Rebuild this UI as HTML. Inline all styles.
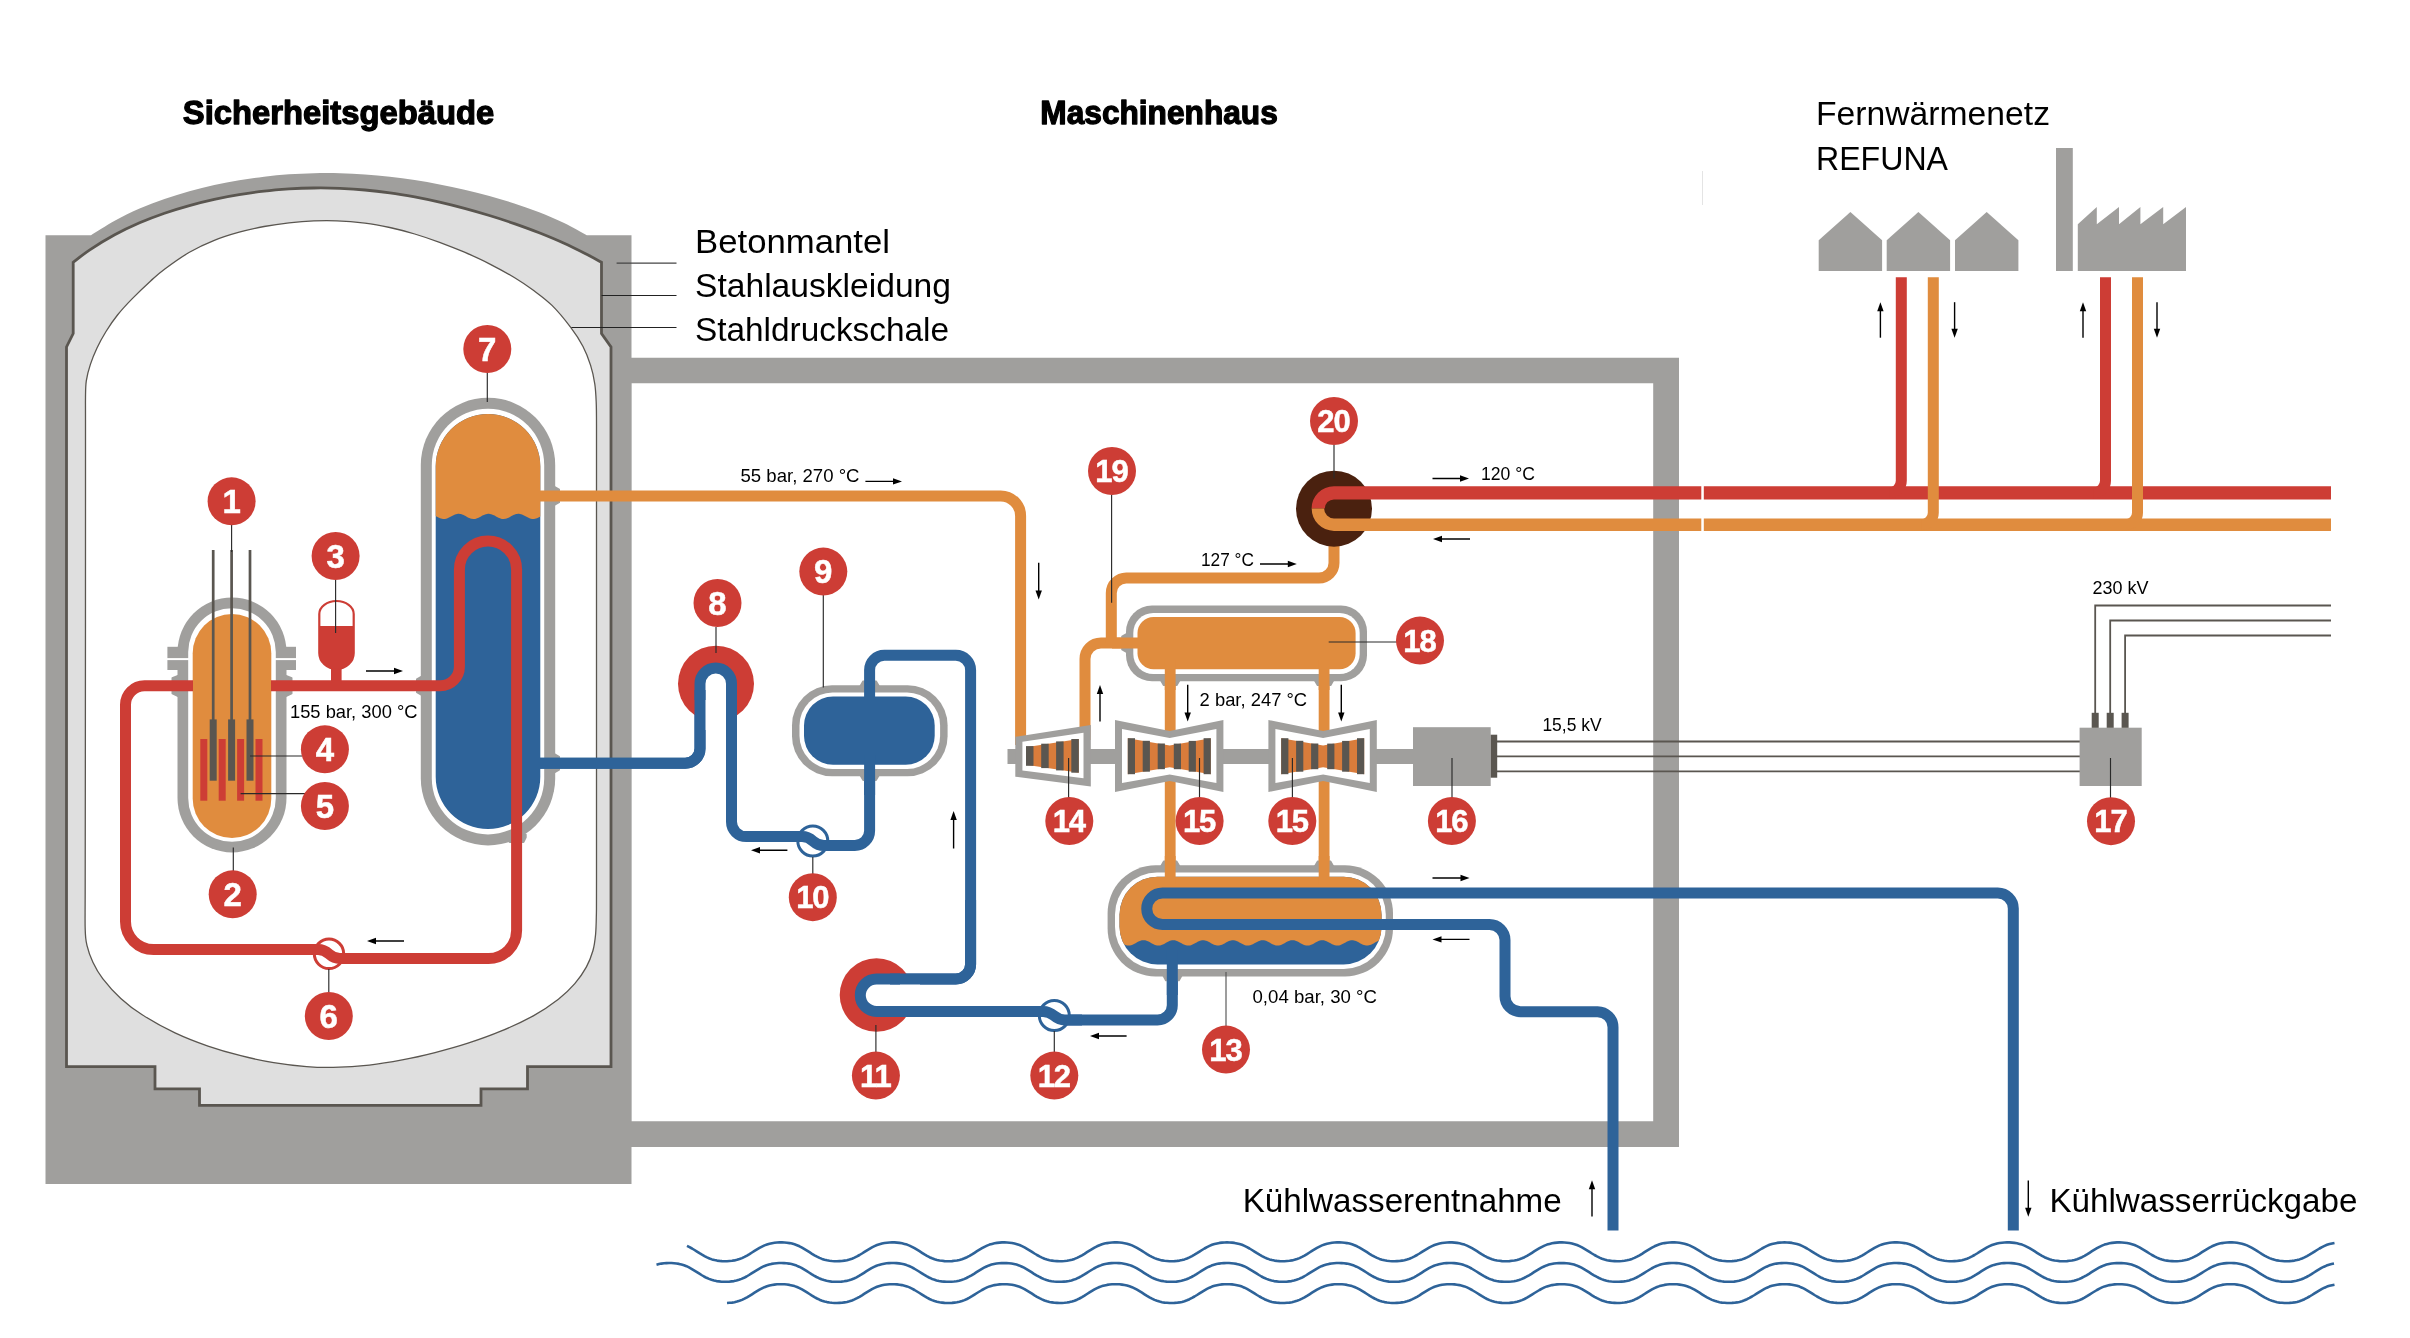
<!DOCTYPE html>
<html lang="de">
<head>
<meta charset="utf-8">
<title>Druckwasserreaktor – Schema</title>
<style>
html,body{margin:0;padding:0;background:#fff;}
body{width:2410px;height:1338px;overflow:hidden;font-family:"Liberation Sans",sans-serif;}
svg{display:block;will-change:transform;}
</style>
</head>
<body>
<svg width="2410" height="1338" viewBox="0 0 2410 1338" font-family="'Liberation Sans', sans-serif">
<rect width="2410" height="1338" fill="#fff"/>
<path d="M600 357.7 H1679 V1146.9 H600 Z M631.3 383.2 V1121.2 H1653.2 V383.2 Z" fill="#a09f9d" fill-rule="evenodd"/>
<path d="M45.5 235.3 H91 C95.0 232.9 106.6 225.2 114.7 220.8 C122.8 216.3 131.3 212.3 139.6 208.6 C147.9 205.0 156.2 201.9 164.5 199.0 C172.8 196.1 181.1 193.6 189.4 191.3 C197.7 188.9 206.0 186.9 214.3 185.1 C222.6 183.3 230.9 181.7 239.2 180.3 C247.5 178.9 255.8 177.7 264.1 176.7 C272.4 175.7 280.7 174.9 289.0 174.3 C297.3 173.8 305.4 173.4 313.9 173.2 C322.4 173.0 331.5 173.0 340.0 173.2 C348.5 173.4 356.6 173.8 364.9 174.4 C373.2 175.0 381.5 175.7 389.8 176.7 C398.1 177.6 406.4 178.7 414.7 180.0 C423.0 181.3 431.3 182.8 439.6 184.4 C447.9 186.0 456.2 187.7 464.5 189.7 C472.8 191.6 481.1 193.7 489.4 196.0 C497.7 198.3 506.0 200.8 514.3 203.5 C522.6 206.2 530.9 209.1 539.2 212.3 C547.5 215.6 556.2 219.3 564.1 223.1 C572.0 226.9 583.0 233.3 586.8 235.3 H631.5 V1184 H45.5 Z" fill="#a09f9d"/>
<path d="M73.2 262.3 C76.0 260.2 82.9 254.4 89.8 249.8 C96.7 245.2 106.4 239.2 114.7 234.7 C123.0 230.2 131.3 226.3 139.6 222.7 C147.9 219.2 156.2 216.1 164.5 213.2 C172.8 210.4 181.1 207.9 189.4 205.6 C197.7 203.3 206.0 201.2 214.3 199.4 C222.6 197.6 230.9 196.0 239.2 194.7 C247.5 193.3 255.8 192.1 264.1 191.2 C272.4 190.2 280.7 189.5 289.0 188.9 C297.3 188.4 305.4 188.1 313.9 188.0 C322.4 187.9 331.5 188.0 340.0 188.3 C348.5 188.7 356.6 189.2 364.9 190.0 C373.2 190.7 381.5 191.7 389.8 192.9 C398.1 194.0 406.4 195.4 414.7 196.9 C423.0 198.5 431.3 200.2 439.6 202.1 C447.9 204.0 456.2 206.1 464.5 208.3 C472.8 210.5 481.1 212.9 489.4 215.5 C497.7 218.0 506.0 220.7 514.3 223.6 C522.6 226.5 530.9 229.5 539.2 232.8 C547.5 236.1 555.8 239.5 564.1 243.3 C572.4 247.1 582.8 252.4 589.0 255.5 C595.2 258.7 599.4 261.2 601.5 262.3 V333.5 L611 347 V1066.6 H527.5 V1088.8 H481 V1105.4 H199.5 V1088.8 H155 V1066.6 H66.5 V347 L73.2 333.5 Z" fill="#dfdfdf" stroke="#5a5650" stroke-width="2.8" stroke-linejoin="miter"/>
<path d="M85.5 420.0 C85.5 402.9 85.4 403.8 85.5 397.3 C85.6 390.8 85.5 386.3 86.3 380.8 C87.1 375.3 88.6 369.9 90.4 364.4 C92.2 358.9 94.4 353.5 97.0 348.0 C99.6 342.5 102.6 337.0 106.0 331.5 C109.4 326.0 113.1 320.5 117.5 315.0 C121.9 309.5 126.8 304.2 132.3 298.6 C137.8 293.0 145.0 286.1 150.4 281.2 C155.8 276.4 158.0 274.1 164.5 269.3 C171.0 264.4 181.1 257.1 189.4 252.3 C197.7 247.5 206.0 243.7 214.3 240.4 C222.6 237.0 230.9 234.5 239.2 232.2 C247.5 229.9 255.8 228.1 264.1 226.5 C272.4 225.0 280.7 223.8 289.0 222.8 C297.3 221.9 305.9 221.2 313.9 220.9 C321.9 220.5 328.5 220.4 337.0 220.8 C345.5 221.1 356.1 222.0 364.9 223.1 C373.7 224.2 381.5 225.7 389.8 227.5 C398.1 229.3 406.4 231.5 414.7 234.0 C423.0 236.5 431.3 239.3 439.6 242.3 C447.9 245.4 456.2 248.7 464.5 252.2 C472.8 255.8 481.1 259.5 489.4 263.8 C497.7 268.0 506.9 273.1 514.3 277.5 C521.7 282.0 527.4 285.9 533.7 290.5 C540.0 295.2 545.8 299.3 552.0 305.4 C558.2 311.5 565.5 320.5 570.7 327.4 C575.9 334.2 579.7 340.2 583.0 346.5 C586.3 352.8 588.6 359.1 590.6 365.4 C592.6 371.6 593.9 377.9 594.8 384.0 C595.7 390.1 595.9 395.2 596.2 402.0 C596.5 408.8 596.5 408.7 596.5 425.0 C596.5 441.3 596.5 454.2 596.5 500.0 C596.5 545.8 596.5 636.7 596.5 700.0 C596.5 763.3 596.5 844.5 596.5 880.0 C596.5 915.5 596.5 903.9 596.4 912.9 C596.2 921.9 596.2 927.9 595.6 934.2 C595.0 940.5 594.5 945.2 592.9 950.7 C591.3 956.2 589.3 961.6 586.3 967.1 C583.3 972.6 579.4 978.2 574.8 983.6 C570.1 989.0 565.2 993.9 558.4 999.2 C551.5 1004.5 543.3 1010.3 533.7 1015.6 C524.1 1020.9 511.8 1026.6 500.8 1031.2 C489.9 1035.8 479.0 1039.6 468.0 1043.2 C457.0 1046.8 446.0 1049.8 435.0 1052.6 C424.0 1055.4 413.1 1057.9 402.2 1059.9 C391.2 1062.0 380.8 1063.8 369.3 1065.1 C357.8 1066.3 343.6 1067.1 333.2 1067.4 C322.8 1067.6 316.5 1067.4 306.6 1066.6 C296.7 1065.8 284.7 1064.4 273.7 1062.6 C262.7 1060.8 251.8 1058.5 240.8 1055.7 C229.9 1053.0 219.0 1049.9 208.0 1046.1 C197.0 1042.3 186.0 1038.1 175.0 1032.9 C164.0 1027.7 151.2 1020.5 142.2 1014.8 C133.2 1009.1 127.4 1004.4 120.8 998.4 C114.2 992.4 107.3 984.6 102.7 978.6 C98.1 972.6 95.5 967.7 92.9 962.2 C90.3 956.7 88.4 951.3 87.1 945.8 C85.8 940.3 85.5 940.3 85.2 929.3 C84.9 918.3 85.2 918.2 85.2 880.0 C85.2 841.8 85.4 763.3 85.4 700.0 C85.5 636.7 85.5 546.7 85.5 500.0 C85.5 453.3 85.5 437.1 85.5 420.0 Z" fill="#fff" stroke="#5a5650" stroke-width="1.3"/>
<line x1="616.6" y1="263.2" x2="676.5" y2="263.2" stroke="#444" stroke-width="1.2"/>
<line x1="601.6" y1="295.5" x2="676.5" y2="295.5" stroke="#222" stroke-width="1.2"/>
<line x1="571.4" y1="327.5" x2="676.5" y2="327.5" stroke="#222" stroke-width="1.2"/>
<rect x="167.4" y="646.8" width="128.6" height="23.2" fill="#a09f9d"/>
<polygon points="181.5,675.4 178.5,675.4 172.3,678.1 172.3,693.6 178.5,696.4 181.5,696.4" fill="#a09f9d" stroke="#a09f9d" stroke-width="1.6" stroke-linejoin="round"/>
<polygon points="282.5,675.4 285.5,675.4 291.7,678.1 291.7,693.6 285.5,696.4 282.5,696.4" fill="#a09f9d" stroke="#a09f9d" stroke-width="1.6" stroke-linejoin="round"/>
<path d="M177.5 652 A54.5 54.5 0 0 1 286.5 652 V798 A54.5 54.5 0 0 1 177.5 798 Z" fill="#a09f9d"/>
<rect x="165" y="658.1" width="134" height="2" fill="#fff"/>
<path d="M188.2 652 A43.8 43.8 0 0 1 275.8 652 V798 A43.8 43.8 0 0 1 188.2 798 Z" fill="#fff"/>
<path d="M192.7 653.3 A39.3 39.3 0 0 1 271.3 653.3 V798.7 A39.3 39.3 0 0 1 192.7 798.7 Z" fill="#e08c3e"/>
<rect x="200.3" y="739" width="7" height="61.7" fill="#cd3d35"/>
<rect x="218.7" y="739" width="7" height="61.7" fill="#cd3d35"/>
<rect x="237.1" y="739" width="7" height="61.7" fill="#cd3d35"/>
<rect x="255.5" y="739" width="7" height="61.7" fill="#cd3d35"/>
<rect x="211.85" y="550" width="2.7" height="172" fill="#5a5650"/>
<rect x="209.7" y="719.4" width="7" height="61.3" fill="#5a5650"/>
<rect x="230.25" y="550" width="2.7" height="172" fill="#5a5650"/>
<rect x="228.1" y="719.4" width="7" height="61.3" fill="#5a5650"/>
<rect x="248.65" y="550" width="2.7" height="172" fill="#5a5650"/>
<rect x="246.5" y="719.4" width="7" height="61.3" fill="#5a5650"/>
<polygon points="551.4,486.6 554.4,486.6 559.2,489.4 559.2,502.4 554.4,505.1 551.4,505.1" fill="#a09f9d" stroke="#a09f9d" stroke-width="1.6" stroke-linejoin="round"/>
<polygon points="551.4,754.0 554.4,754.0 559.2,756.7 559.2,769.7 554.4,772.5 551.4,772.5" fill="#a09f9d" stroke="#a09f9d" stroke-width="1.6" stroke-linejoin="round"/>
<polygon points="424.6,676.5 421.6,676.5 416.8,679.2 416.8,692.2 421.6,695.0 424.6,695.0" fill="#a09f9d" stroke="#a09f9d" stroke-width="1.6" stroke-linejoin="round"/>
<polygon points="507.4,834.5 507.4,837.5 509.6,842.1 523.6,842.1 525.9,837.5 525.9,834.5" fill="#a09f9d" stroke="#a09f9d" stroke-width="1.6" stroke-linejoin="round"/>
<path d="M420.8 465 A67.2 67.2 0 0 1 555.2 465 V778.2 A67.2 67.2 0 0 1 420.8 778.2 Z" fill="#a09f9d"/>
<path d="M431.8 465 A56.2 56.2 0 0 1 544.2 465 V778.2 A56.2 56.2 0 0 1 431.8 778.2 Z" fill="#fff"/>
<clipPath id="sgc"><path d="M435.7 466.3 A52.3 52.3 0 0 1 540.3 466.3 V776.7 A52.3 52.3 0 0 1 435.7 776.7 Z"/></clipPath>
<g clip-path="url(#sgc)">
<rect x="430" y="410" width="120" height="430" fill="#2e6399"/>
<polygon points="430.0,513.90 431.0,514.10 432.0,514.40 433.0,514.79 434.0,515.25 435.0,515.76 436.0,516.30 437.0,516.85 438.0,517.37 439.0,517.85 440.0,518.27 441.0,518.61 442.0,518.85 443.0,518.98 444.0,518.99 445.0,518.90 446.0,518.69 447.0,518.38 448.0,517.99 449.0,517.52 450.0,517.01 451.0,516.47 452.0,515.92 453.0,515.40 454.0,514.92 455.0,514.51 456.0,514.18 457.0,513.95 458.0,513.82 459.0,513.81 460.0,513.91 461.0,514.12 462.0,514.44 463.0,514.83 464.0,515.30 465.0,515.82 466.0,516.36 467.0,516.90 468.0,517.42 469.0,517.90 470.0,518.31 471.0,518.64 472.0,518.86 473.0,518.98 474.0,518.99 475.0,518.88 476.0,518.66 477.0,518.35 478.0,517.94 479.0,517.47 480.0,516.96 481.0,516.41 482.0,515.87 483.0,515.35 484.0,514.88 485.0,514.47 486.0,514.15 487.0,513.93 488.0,513.81 489.0,513.81 490.0,513.93 491.0,514.15 492.0,514.47 493.0,514.88 494.0,515.35 495.0,515.87 496.0,516.41 497.0,516.96 498.0,517.47 499.0,517.94 500.0,518.35 501.0,518.66 502.0,518.88 503.0,518.99 504.0,518.98 505.0,518.86 506.0,518.64 507.0,518.31 508.0,517.90 509.0,517.42 510.0,516.90 511.0,516.36 512.0,515.82 513.0,515.30 514.0,514.83 515.0,514.44 516.0,514.12 517.0,513.91 518.0,513.81 519.0,513.82 520.0,513.95 521.0,514.18 522.0,514.51 523.0,514.92 524.0,515.40 525.0,515.92 526.0,516.47 527.0,517.01 528.0,517.52 529.0,517.99 530.0,518.38 531.0,518.69 532.0,518.90 533.0,518.99 534.0,518.98 535.0,518.85 536.0,518.61 537.0,518.27 538.0,517.85 539.0,517.37 540.0,516.85 541.0,516.30 542.0,515.76 543.0,515.25 544.0,514.79 545.0,514.40 546.0,514.10 547.0,513.90 548.0,513.81 549.0,513.83 550.0,513.96 550.0,400.0 430.0,400.0" fill="#e08c3e"/>
</g>
<path d="M271.00 685.70 L440.40 685.70 A19.00 19.00 0 0 0 459.40 666.70 L459.40 569.50" fill="none" stroke="#cd3d35" stroke-width="11" />
<path d="M459.4 570 V569.5 A28.6 28.6 0 0 1 516.6 569.5 V570" fill="none" stroke="#cd3d35" stroke-width="11"/>
<path d="M516.60 569.00 L516.60 930.50 A28.00 28.00 0 0 1 488.60 958.50 L345.00 958.50" fill="none" stroke="#cd3d35" stroke-width="11" />
<path d="M312 949.5 H153.5 A28 28 0 0 1 125.5 921.5 V704.7 A19 19 0 0 1 144.5 685.7 H193" fill="none" stroke="#cd3d35" stroke-width="11"/>
<circle cx="329" cy="953.8" r="14.7" fill="#fff" stroke="#cd3d35" stroke-width="3"/>
<path d="M300 949.5 H318 C330 949.5 328 958.5 340 958.5 H360" fill="none" stroke="#cd3d35" stroke-width="11"/>
<rect x="331" y="664" width="10.6" height="20" fill="#cd3d35"/>
<path d="M319.3 614 A17.2 13 0 0 1 353.7 614 V653 A17.2 16 0 0 1 319.3 653 Z" fill="#fff" stroke="#cd3d35" stroke-width="2.2"/>
<path d="M319.3 626 H353.7 V653 A17.2 16 0 0 1 319.3 653 Z" fill="#cd3d35"/>
<path d="M540.00 495.90 L1000.60 495.90 A20.00 20.00 0 0 1 1020.60 515.90 L1020.60 745.00" fill="none" stroke="#e08c3e" stroke-width="11" />
<path d="M1085.00 740.00 L1085.00 659.00 A16.00 16.00 0 0 1 1101.00 643.00 L1140.00 643.00" fill="none" stroke="#e08c3e" stroke-width="11" />
<path d="M1111.30 643.00 L1111.30 593.00 A15.00 15.00 0 0 1 1126.30 578.00 L1319.00 578.00 A15.00 15.00 0 0 0 1334.00 563.00 L1334.00 540.00" fill="none" stroke="#e08c3e" stroke-width="11" />
<rect x="1164.8" y="660" width="10.8" height="225" fill="#e08c3e"/>
<rect x="1318.7" y="660" width="10.8" height="225" fill="#e08c3e"/>
<path d="M540.00 763.20 L685.20 763.20 A14.80 14.80 0 0 0 700.00 748.40 L700.00 690.00" fill="none" stroke="#2e6399" stroke-width="11" />
<circle cx="716" cy="683.7" r="38" fill="#cd3d35"/>
<path d="M700 730 V683.7 A15.75 15.75 0 0 1 731.5 683.7 V730 Z" fill="#fff"/>
<path d="M700 700 V683.7 A15.75 15.75 0 0 1 731.5 683.7 V700" fill="none" stroke="#2e6399" stroke-width="11"/>
<path d="M700.00 690.00 L700.00 748.40 A14.80 14.80 0 0 1 685.20 763.20 L540.00 763.20" fill="none" stroke="#2e6399" stroke-width="11" />
<path d="M731.50 690.00 L731.50 821.80 A14.80 14.80 0 0 0 746.30 836.60 L800.00 836.60" fill="none" stroke="#2e6399" stroke-width="11" />
<path d="M826.00 845.50 L854.80 845.50 A14.80 14.80 0 0 0 869.60 830.70 L869.60 760.00" fill="none" stroke="#2e6399" stroke-width="11" />
<circle cx="812.8" cy="841" r="15" fill="#fff" stroke="#2e6399" stroke-width="3"/>
<path d="M785 836.6 H802 C814 836.6 812 845.5 824 845.5 H840" fill="none" stroke="#2e6399" stroke-width="11"/>
<polygon points="860.4,689.0 860.4,686.0 863.1,681.2 876.1,681.2 878.9,686.0 878.9,689.0" fill="#a09f9d" stroke="#a09f9d" stroke-width="1.6" stroke-linejoin="round"/>
<polygon points="860.4,772.4 860.4,775.4 863.1,780.2 876.1,780.2 878.9,775.4 878.9,772.4" fill="#a09f9d" stroke="#a09f9d" stroke-width="1.6" stroke-linejoin="round"/>
<rect x="792" y="685.2" width="155.6" height="91" rx="40" fill="#a09f9d"/>
<rect x="799.5" y="692.5" width="140.6" height="76.4" rx="33" fill="#fff"/>
<rect x="804" y="696.5" width="130.7" height="68.3" rx="29" fill="#2e6399"/>
<rect x="864.1" y="755" width="11" height="40" fill="#2e6399"/>
<path d="M869.60 700.00 L869.60 670.10 A14.80 14.80 0 0 1 884.40 655.30 L955.80 655.30 A14.80 14.80 0 0 1 970.60 670.10 L970.60 964.20 A14.80 14.80 0 0 1 955.80 979.00 L880.00 979.00" fill="none" stroke="#2e6399" stroke-width="11" />
<circle cx="876.5" cy="995" r="36.8" fill="#cd3d35"/>
<path d="M920 979 H876.5 A16.2 16.2 0 0 0 876.5 1011.4 H920 Z" fill="#fff"/>
<path d="M900 979 H876.5 A16.2 16.2 0 0 0 876.5 1011.4 H900" fill="none" stroke="#2e6399" stroke-width="11"/>
<path d="M890.00 979.00 L955.80 979.00 A14.80 14.80 0 0 0 970.60 964.20 L970.60 900.00" fill="none" stroke="#2e6399" stroke-width="11" />
<path d="M890.00 1011.40 L1042.00 1011.40" fill="none" stroke="#2e6399" stroke-width="11" />
<path d="M1066.00 1020.00 L1157.50 1020.00 A14.80 14.80 0 0 0 1172.30 1005.20 L1172.30 960.00" fill="none" stroke="#2e6399" stroke-width="11" />
<circle cx="1054.3" cy="1015.5" r="15" fill="#fff" stroke="#2e6399" stroke-width="3"/>
<path d="M1026 1011.4 H1043 C1055 1011.4 1053 1020 1065 1020 H1082" fill="none" stroke="#2e6399" stroke-width="11"/>
<polygon points="1161.0,869.1 1161.0,866.1 1163.7,861.3 1176.7,861.3 1179.5,866.1 1179.5,869.1" fill="#a09f9d" stroke="#a09f9d" stroke-width="1.6" stroke-linejoin="round"/>
<polygon points="1314.8,869.1 1314.8,866.1 1317.6,861.3 1330.6,861.3 1333.3,866.1 1333.3,869.1" fill="#a09f9d" stroke="#a09f9d" stroke-width="1.6" stroke-linejoin="round"/>
<polygon points="1163.2,972.7 1163.2,975.7 1165.9,980.5 1178.9,980.5 1181.7,975.7 1181.7,972.7" fill="#a09f9d" stroke="#a09f9d" stroke-width="1.6" stroke-linejoin="round"/>
<rect x="1107.6" y="865.3" width="285.4" height="111.2" rx="48" fill="#a09f9d"/>
<rect x="1115" y="872.5" width="270.8" height="96.5" rx="42" fill="#fff"/>
<clipPath id="cdc"><rect x="1119.5" y="876.7" width="262.1" height="87.8" rx="38"/></clipPath>
<g clip-path="url(#cdc)">
<rect x="1110" y="870" width="280" height="100" fill="#2e6399"/>
<polygon points="1112.0,940.37 1113.0,940.23 1114.0,940.21 1115.0,940.30 1116.0,940.51 1117.0,940.83 1118.0,941.24 1119.0,941.72 1120.0,942.25 1121.0,942.81 1122.0,943.38 1123.0,943.93 1124.0,944.43 1125.0,944.86 1126.0,945.20 1127.0,945.45 1128.0,945.58 1129.0,945.59 1130.0,945.48 1131.0,945.26 1132.0,944.94 1133.0,944.52 1134.0,944.03 1135.0,943.49 1136.0,942.93 1137.0,942.36 1138.0,941.82 1139.0,941.33 1140.0,940.90 1141.0,940.57 1142.0,940.33 1143.0,940.21 1144.0,940.21 1145.0,940.33 1146.0,940.57 1147.0,940.90 1148.0,941.33 1149.0,941.82 1150.0,942.36 1151.0,942.93 1152.0,943.49 1153.0,944.03 1154.0,944.52 1155.0,944.94 1156.0,945.26 1157.0,945.48 1158.0,945.59 1159.0,945.58 1160.0,945.45 1161.0,945.20 1162.0,944.86 1163.0,944.43 1164.0,943.93 1165.0,943.38 1166.0,942.81 1167.0,942.25 1168.0,941.72 1169.0,941.24 1170.0,940.83 1171.0,940.51 1172.0,940.30 1173.0,940.21 1174.0,940.23 1175.0,940.37 1176.0,940.63 1177.0,940.98 1178.0,941.42 1179.0,941.93 1180.0,942.47 1181.0,943.04 1182.0,943.60 1183.0,944.13 1184.0,944.61 1185.0,945.01 1186.0,945.31 1187.0,945.51 1188.0,945.60 1189.0,945.56 1190.0,945.41 1191.0,945.14 1192.0,944.78 1193.0,944.33 1194.0,943.82 1195.0,943.27 1196.0,942.70 1197.0,942.14 1198.0,941.62 1199.0,941.15 1200.0,940.76 1201.0,940.46 1202.0,940.27 1203.0,940.20 1204.0,940.25 1205.0,940.41 1206.0,940.69 1207.0,941.06 1208.0,941.52 1209.0,942.03 1210.0,942.59 1211.0,943.16 1212.0,943.71 1213.0,944.23 1214.0,944.70 1215.0,945.08 1216.0,945.36 1217.0,945.54 1218.0,945.60 1219.0,945.54 1220.0,945.36 1221.0,945.08 1222.0,944.70 1223.0,944.23 1224.0,943.71 1225.0,943.16 1226.0,942.59 1227.0,942.03 1228.0,941.52 1229.0,941.06 1230.0,940.69 1231.0,940.41 1232.0,940.25 1233.0,940.20 1234.0,940.27 1235.0,940.46 1236.0,940.76 1237.0,941.15 1238.0,941.62 1239.0,942.14 1240.0,942.70 1241.0,943.27 1242.0,943.82 1243.0,944.33 1244.0,944.78 1245.0,945.14 1246.0,945.41 1247.0,945.56 1248.0,945.60 1249.0,945.51 1250.0,945.31 1251.0,945.01 1252.0,944.61 1253.0,944.13 1254.0,943.60 1255.0,943.04 1256.0,942.47 1257.0,941.93 1258.0,941.42 1259.0,940.98 1260.0,940.63 1261.0,940.37 1262.0,940.23 1263.0,940.21 1264.0,940.30 1265.0,940.51 1266.0,940.83 1267.0,941.24 1268.0,941.72 1269.0,942.25 1270.0,942.81 1271.0,943.38 1272.0,943.93 1273.0,944.43 1274.0,944.86 1275.0,945.20 1276.0,945.45 1277.0,945.58 1278.0,945.59 1279.0,945.48 1280.0,945.26 1281.0,944.94 1282.0,944.52 1283.0,944.03 1284.0,943.49 1285.0,942.93 1286.0,942.36 1287.0,941.82 1288.0,941.33 1289.0,940.90 1290.0,940.57 1291.0,940.33 1292.0,940.21 1293.0,940.21 1294.0,940.33 1295.0,940.57 1296.0,940.90 1297.0,941.33 1298.0,941.82 1299.0,942.36 1300.0,942.93 1301.0,943.49 1302.0,944.03 1303.0,944.52 1304.0,944.94 1305.0,945.26 1306.0,945.48 1307.0,945.59 1308.0,945.58 1309.0,945.45 1310.0,945.20 1311.0,944.86 1312.0,944.43 1313.0,943.93 1314.0,943.38 1315.0,942.81 1316.0,942.25 1317.0,941.72 1318.0,941.24 1319.0,940.83 1320.0,940.51 1321.0,940.30 1322.0,940.21 1323.0,940.23 1324.0,940.37 1325.0,940.63 1326.0,940.98 1327.0,941.42 1328.0,941.93 1329.0,942.47 1330.0,943.04 1331.0,943.60 1332.0,944.13 1333.0,944.61 1334.0,945.01 1335.0,945.31 1336.0,945.51 1337.0,945.60 1338.0,945.56 1339.0,945.41 1340.0,945.14 1341.0,944.78 1342.0,944.33 1343.0,943.82 1344.0,943.27 1345.0,942.70 1346.0,942.14 1347.0,941.62 1348.0,941.15 1349.0,940.76 1350.0,940.46 1351.0,940.27 1352.0,940.20 1353.0,940.25 1354.0,940.41 1355.0,940.69 1356.0,941.06 1357.0,941.52 1358.0,942.03 1359.0,942.59 1360.0,943.16 1361.0,943.71 1362.0,944.23 1363.0,944.70 1364.0,945.08 1365.0,945.36 1366.0,945.54 1367.0,945.60 1368.0,945.54 1369.0,945.36 1370.0,945.08 1371.0,944.70 1372.0,944.23 1373.0,943.71 1374.0,943.16 1375.0,942.59 1376.0,942.03 1377.0,941.52 1378.0,941.06 1379.0,940.69 1380.0,940.41 1381.0,940.25 1382.0,940.20 1383.0,940.27 1384.0,940.46 1385.0,940.76 1386.0,941.15 1387.0,941.62 1388.0,942.14 1389.0,942.70 1390.0,943.27 1390.0,860.0 1112.0,860.0" fill="#e08c3e"/>
</g>
<rect x="1164.8" y="856" width="10.8" height="28" fill="#e08c3e"/>
<rect x="1318.7" y="856" width="10.8" height="28" fill="#e08c3e"/>
<rect x="1166.8" y="950" width="11" height="45" fill="#2e6399"/>
<path d="M2013.3 1230.6 V908.5 A15.5 15.5 0 0 0 1997.8 893 H1162.5 A15.75 15.75 0 0 0 1162.5 924.5 H1489.5 A15.5 15.5 0 0 1 1505 940.0 V996.2 A15.5 15.5 0 0 0 1520.5 1011.7 H1597.2 A15.5 15.5 0 0 1 1613.0 1027.2 V1230.6" fill="none" stroke="#2e6399" stroke-width="11"/>
<polygon points="1161.0,677.5 1161.0,680.5 1163.7,685.3 1176.7,685.3 1179.5,680.5 1179.5,677.5" fill="#a09f9d" stroke="#a09f9d" stroke-width="1.6" stroke-linejoin="round"/>
<polygon points="1314.8,677.5 1314.8,680.5 1317.6,685.3 1330.6,685.3 1333.3,680.5 1333.3,677.5" fill="#a09f9d" stroke="#a09f9d" stroke-width="1.6" stroke-linejoin="round"/>
<polygon points="1129.8,633.8 1126.8,633.8 1122.0,636.5 1122.0,649.5 1126.8,652.2 1129.8,652.2" fill="#a09f9d" stroke="#a09f9d" stroke-width="1.6" stroke-linejoin="round"/>
<rect x="1126" y="605.6" width="241" height="75.7" rx="26" fill="#a09f9d"/>
<rect x="1133.3" y="613" width="226.4" height="61" rx="20" fill="#fff"/>
<rect x="1137.5" y="617" width="218.1" height="52.3" rx="16" fill="#e08c3e"/>
<rect x="1112" y="637.5" width="33" height="11" fill="#e08c3e"/>
<rect x="1164.8" y="660" width="10.8" height="30" fill="#e08c3e"/>
<rect x="1318.7" y="660" width="10.8" height="30" fill="#e08c3e"/>
<rect x="1007.5" y="749" width="8" height="15" fill="#a09f9d"/>
<rect x="1015" y="749" width="400" height="15" fill="#a09f9d"/>
<polygon points="1015.3,736.8 1090.8,724.9 1090.8,786.6 1015.3,776.7" fill="#a09f9d"/>
<polygon points="1022.4,741.8 1083.5,732.8 1083.5,778.3 1022.4,770.6" fill="#fff"/>
<polygon points="1026.0,747.3 1078.8,739.0 1078.8,772.7 1026.0,764.7" fill="#d97c3b"/>
<rect x="1026.0" y="746.1" width="7.5" height="19.7" fill="#5a5650"/>
<rect x="1041.2" y="743.7" width="7.5" height="24.4" fill="#5a5650"/>
<rect x="1056.1" y="741.4" width="7.5" height="29.0" fill="#5a5650"/>
<rect x="1071.3" y="739.0" width="7.5" height="33.7" fill="#5a5650"/>
<polygon points="1115.0,720 1169.7,731 1223.4,720 1223.4,792 1169.7,781 1115.0,792" fill="#a09f9d"/>
<polygon points="1122.0,729 1169.7,738 1216.4,729 1216.4,783 1169.7,774.5 1122.0,783" fill="#fff"/>
<polygon points="1127.8,738.2 1169.7,745.6 1210.8,738.2 1210.8,774.2 1169.7,767.2 1127.8,774.2" fill="#d97c3b"/>
<rect x="1127.8" y="738.2" width="7.2" height="36.0" fill="#5a5650"/>
<rect x="1142.7" y="740.8" width="7.2" height="30.9" fill="#5a5650"/>
<rect x="1157.7" y="743.5" width="7.2" height="25.7" fill="#5a5650"/>
<rect x="1173.8" y="743.6" width="7.2" height="25.6" fill="#5a5650"/>
<rect x="1188.7" y="740.9" width="7.2" height="30.8" fill="#5a5650"/>
<rect x="1203.6" y="738.2" width="7.2" height="36.0" fill="#5a5650"/>
<polygon points="1268.4,720 1323.1,731 1376.8,720 1376.8,792 1323.1,781 1268.4,792" fill="#a09f9d"/>
<polygon points="1275.4,729 1323.1,738 1369.8,729 1369.8,783 1323.1,774.5 1275.4,783" fill="#fff"/>
<polygon points="1281.2,738.2 1323.1,745.6 1364.2,738.2 1364.2,774.2 1323.1,767.2 1281.2,774.2" fill="#d97c3b"/>
<rect x="1281.2" y="738.2" width="7.2" height="36.0" fill="#5a5650"/>
<rect x="1296.1" y="740.8" width="7.2" height="30.9" fill="#5a5650"/>
<rect x="1311.1" y="743.5" width="7.2" height="25.7" fill="#5a5650"/>
<rect x="1327.2" y="743.6" width="7.2" height="25.6" fill="#5a5650"/>
<rect x="1342.1" y="740.9" width="7.2" height="30.8" fill="#5a5650"/>
<rect x="1357.0" y="738.2" width="7.2" height="36.0" fill="#5a5650"/>
<rect x="1413" y="727.2" width="77.7" height="58.8" fill="#a09f9d"/>
<rect x="1490.7" y="734.7" width="6.5" height="43" fill="#5a5650"/>
<line x1="1497.0" y1="741.5" x2="2080.0" y2="741.5" stroke="#5a5650" stroke-width="1.8"/>
<line x1="1497.0" y1="756.3" x2="2080.0" y2="756.3" stroke="#5a5650" stroke-width="1.8"/>
<line x1="1497.0" y1="771.3" x2="2080.0" y2="771.3" stroke="#5a5650" stroke-width="1.8"/>
<rect x="2079.6" y="727.7" width="62.1" height="58.3" fill="#a09f9d"/>
<rect x="2091.7" y="712.8" width="7" height="15" fill="#5a5650"/>
<path d="M2095.2 713 V605.5 H2331" fill="none" stroke="#5a5650" stroke-width="1.8"/>
<rect x="2106.7" y="712.8" width="7" height="15" fill="#5a5650"/>
<path d="M2110.2 713 V620.5 H2331" fill="none" stroke="#5a5650" stroke-width="1.8"/>
<rect x="2121.6" y="712.8" width="7" height="15" fill="#5a5650"/>
<path d="M2125.1 713 V635.5 H2331" fill="none" stroke="#5a5650" stroke-width="1.8"/>
<circle cx="1334" cy="508.7" r="38" fill="#4a210f"/>
<path d="M2331 492.8 H1334 A15.8 15.8 0 0 0 1318.2 508.6" fill="none" stroke="#cd3d35" stroke-width="13.2"/>
<path d="M2331 524.7 H1334 A16.1 16.1 0 0 1 1317.9 508.6" fill="none" stroke="#e08c3e" stroke-width="12.4"/>
<path d="M1901.3 277.3 V480.8 A12 12 0 0 1 1889.3 492.8" fill="none" stroke="#cd3d35" stroke-width="11"/>
<path d="M1933.3 277.3 V512.7 A12 12 0 0 1 1921.3 524.7" fill="none" stroke="#e08c3e" stroke-width="11"/>
<path d="M2105.5 277.3 V480.8 A12 12 0 0 1 2093.5 492.8" fill="none" stroke="#cd3d35" stroke-width="11"/>
<path d="M2137.5 277.3 V512.7 A12 12 0 0 1 2125.5 524.7" fill="none" stroke="#e08c3e" stroke-width="11"/>
<rect x="1701.3" y="480" width="2.5" height="60" fill="#fff"/>
<rect x="1702" y="171" width="1" height="34" fill="#e4e4e4"/>
<polygon points="1818.7,271 1818.7,240.2 1850.4,212 1882.1,240.2 1882.1,271" fill="#a09f9d"/>
<polygon points="1886.7,271 1886.7,240.2 1918.4,212 1950.1,240.2 1950.1,271" fill="#a09f9d"/>
<polygon points="1955.0,271 1955.0,240.2 1986.7,212 2018.4,240.2 2018.4,271" fill="#a09f9d"/>
<rect x="2056" y="148" width="16.8" height="123" fill="#a09f9d"/>
<polygon points="2077.8,271 2077.8,224.3 2096.8,207 2096.8,224.3 2119,207 2119,224.3 2140.4,207 2140.4,224.3 2163.2,207 2163.2,224.3 2186,207 2186,271" fill="#a09f9d"/>
<polyline points="687.0,1245.9 689.5,1247.1 692.0,1248.5 694.5,1250.0 697.0,1251.6 699.5,1253.2 702.0,1254.7 704.5,1256.1 707.0,1257.4 709.5,1258.5 712.0,1259.4 714.5,1260.1 717.0,1260.6 719.5,1260.9 722.0,1261.1 724.5,1261.2 727.0,1261.2 729.5,1261.0 732.0,1260.8 734.5,1260.4 737.0,1259.8 739.5,1259.0 742.0,1258.1 744.5,1256.9 747.0,1255.6 749.5,1254.1 752.0,1252.5 754.5,1250.9 757.0,1249.4 759.5,1247.9 762.0,1246.6 764.5,1245.4 767.0,1244.5 769.5,1243.7 772.0,1243.2 774.5,1242.8 777.0,1242.5 779.5,1242.4 782.0,1242.4 784.5,1242.5 787.0,1242.7 789.5,1243.1 792.0,1243.6 794.5,1244.3 797.0,1245.2 799.5,1246.3 802.0,1247.6 804.5,1249.1 807.0,1250.6 809.5,1252.2 812.0,1253.8 814.5,1255.3 817.0,1256.7 819.5,1257.9 822.0,1258.9 824.5,1259.7 827.0,1260.3 829.5,1260.7 832.0,1261.0 834.5,1261.2 837.0,1261.2 839.5,1261.1 842.0,1261.0 844.5,1260.6 847.0,1260.2 849.5,1259.5 852.0,1258.7 854.5,1257.6 857.0,1256.4 859.5,1255.0 862.0,1253.5 864.5,1251.9 867.0,1250.3 869.5,1248.8 872.0,1247.3 874.5,1246.1 877.0,1245.0 879.5,1244.2 882.0,1243.5 884.5,1243.0 887.0,1242.7 889.5,1242.5 892.0,1242.4 894.5,1242.4 897.0,1242.6 899.5,1242.9 902.0,1243.3 904.5,1243.9 907.0,1244.6 909.5,1245.6 912.0,1246.8 914.5,1248.2 917.0,1249.7 919.5,1251.2 922.0,1252.8 924.5,1254.4 927.0,1255.9 929.5,1257.2 932.0,1258.3 934.5,1259.2 937.0,1259.9 939.5,1260.5 942.0,1260.8 944.5,1261.1 947.0,1261.2 949.5,1261.2 952.0,1261.1 954.5,1260.8 957.0,1260.5 959.5,1259.9 962.0,1259.2 964.5,1258.3 967.0,1257.2 969.5,1255.9 972.0,1254.4 974.5,1252.8 977.0,1251.2 979.5,1249.7 982.0,1248.2 984.5,1246.8 987.0,1245.6 989.5,1244.6 992.0,1243.9 994.5,1243.3 997.0,1242.9 999.5,1242.6 1002.0,1242.4 1004.5,1242.4 1007.0,1242.5 1009.5,1242.7 1012.0,1243.0 1014.5,1243.5 1017.0,1244.2 1019.5,1245.0 1022.0,1246.1 1024.5,1247.3 1027.0,1248.8 1029.5,1250.3 1032.0,1251.9 1034.5,1253.5 1037.0,1255.0 1039.5,1256.4 1042.0,1257.6 1044.5,1258.7 1047.0,1259.5 1049.5,1260.2 1052.0,1260.6 1054.5,1261.0 1057.0,1261.1 1059.5,1261.2 1062.0,1261.2 1064.5,1261.0 1067.0,1260.7 1069.5,1260.3 1072.0,1259.7 1074.5,1258.9 1077.0,1257.9 1079.5,1256.7 1082.0,1255.3 1084.5,1253.8 1087.0,1252.2 1089.5,1250.6 1092.0,1249.1 1094.5,1247.6 1097.0,1246.3 1099.5,1245.2 1102.0,1244.3 1104.5,1243.6 1107.0,1243.1 1109.5,1242.7 1112.0,1242.5 1114.5,1242.4 1117.0,1242.4 1119.5,1242.5 1122.0,1242.8 1124.5,1243.2 1127.0,1243.7 1129.5,1244.5 1132.0,1245.4 1134.5,1246.6 1137.0,1247.9 1139.5,1249.4 1142.0,1250.9 1144.5,1252.5 1147.0,1254.1 1149.5,1255.6 1152.0,1256.9 1154.5,1258.1 1157.0,1259.0 1159.5,1259.8 1162.0,1260.4 1164.5,1260.8 1167.0,1261.0 1169.5,1261.2 1172.0,1261.2 1174.5,1261.1 1177.0,1260.9 1179.5,1260.6 1182.0,1260.1 1184.5,1259.4 1187.0,1258.5 1189.5,1257.4 1192.0,1256.1 1194.5,1254.7 1197.0,1253.2 1199.5,1251.6 1202.0,1250.0 1204.5,1248.5 1207.0,1247.1 1209.5,1245.9 1212.0,1244.8 1214.5,1244.0 1217.0,1243.4 1219.5,1242.9 1222.0,1242.6 1224.5,1242.5 1227.0,1242.4 1229.5,1242.5 1232.0,1242.6 1234.5,1242.9 1237.0,1243.4 1239.5,1244.0 1242.0,1244.8 1244.5,1245.9 1247.0,1247.1 1249.5,1248.5 1252.0,1250.0 1254.5,1251.6 1257.0,1253.2 1259.5,1254.7 1262.0,1256.1 1264.5,1257.4 1267.0,1258.5 1269.5,1259.4 1272.0,1260.1 1274.5,1260.6 1277.0,1260.9 1279.5,1261.1 1282.0,1261.2 1284.5,1261.2 1287.0,1261.0 1289.5,1260.8 1292.0,1260.4 1294.5,1259.8 1297.0,1259.0 1299.5,1258.1 1302.0,1256.9 1304.5,1255.6 1307.0,1254.1 1309.5,1252.5 1312.0,1250.9 1314.5,1249.4 1317.0,1247.9 1319.5,1246.6 1322.0,1245.4 1324.5,1244.5 1327.0,1243.7 1329.5,1243.2 1332.0,1242.8 1334.5,1242.5 1337.0,1242.4 1339.5,1242.4 1342.0,1242.5 1344.5,1242.7 1347.0,1243.1 1349.5,1243.6 1352.0,1244.3 1354.5,1245.2 1357.0,1246.3 1359.5,1247.6 1362.0,1249.1 1364.5,1250.6 1367.0,1252.2 1369.5,1253.8 1372.0,1255.3 1374.5,1256.7 1377.0,1257.9 1379.5,1258.9 1382.0,1259.7 1384.5,1260.3 1387.0,1260.7 1389.5,1261.0 1392.0,1261.2 1394.5,1261.2 1397.0,1261.1 1399.5,1261.0 1402.0,1260.6 1404.5,1260.2 1407.0,1259.5 1409.5,1258.7 1412.0,1257.6 1414.5,1256.4 1417.0,1255.0 1419.5,1253.5 1422.0,1251.9 1424.5,1250.3 1427.0,1248.8 1429.5,1247.3 1432.0,1246.1 1434.5,1245.0 1437.0,1244.2 1439.5,1243.5 1442.0,1243.0 1444.5,1242.7 1447.0,1242.5 1449.5,1242.4 1452.0,1242.4 1454.5,1242.6 1457.0,1242.9 1459.5,1243.3 1462.0,1243.9 1464.5,1244.6 1467.0,1245.6 1469.5,1246.8 1472.0,1248.2 1474.5,1249.7 1477.0,1251.2 1479.5,1252.8 1482.0,1254.4 1484.5,1255.9 1487.0,1257.2 1489.5,1258.3 1492.0,1259.2 1494.5,1259.9 1497.0,1260.5 1499.5,1260.8 1502.0,1261.1 1504.5,1261.2 1507.0,1261.2 1509.5,1261.1 1512.0,1260.8 1514.5,1260.5 1517.0,1259.9 1519.5,1259.2 1522.0,1258.3 1524.5,1257.2 1527.0,1255.9 1529.5,1254.4 1532.0,1252.8 1534.5,1251.2 1537.0,1249.7 1539.5,1248.2 1542.0,1246.8 1544.5,1245.6 1547.0,1244.6 1549.5,1243.9 1552.0,1243.3 1554.5,1242.9 1557.0,1242.6 1559.5,1242.4 1562.0,1242.4 1564.5,1242.5 1567.0,1242.7 1569.5,1243.0 1572.0,1243.5 1574.5,1244.2 1577.0,1245.0 1579.5,1246.1 1582.0,1247.3 1584.5,1248.8 1587.0,1250.3 1589.5,1251.9 1592.0,1253.5 1594.5,1255.0 1597.0,1256.4 1599.5,1257.6 1602.0,1258.7 1604.5,1259.5 1607.0,1260.2 1609.5,1260.6 1612.0,1261.0 1614.5,1261.1 1617.0,1261.2 1619.5,1261.2 1622.0,1261.0 1624.5,1260.7 1627.0,1260.3 1629.5,1259.7 1632.0,1258.9 1634.5,1257.9 1637.0,1256.7 1639.5,1255.3 1642.0,1253.8 1644.5,1252.2 1647.0,1250.6 1649.5,1249.1 1652.0,1247.6 1654.5,1246.3 1657.0,1245.2 1659.5,1244.3 1662.0,1243.6 1664.5,1243.1 1667.0,1242.7 1669.5,1242.5 1672.0,1242.4 1674.5,1242.4 1677.0,1242.5 1679.5,1242.8 1682.0,1243.2 1684.5,1243.7 1687.0,1244.5 1689.5,1245.4 1692.0,1246.6 1694.5,1247.9 1697.0,1249.4 1699.5,1250.9 1702.0,1252.5 1704.5,1254.1 1707.0,1255.6 1709.5,1256.9 1712.0,1258.1 1714.5,1259.0 1717.0,1259.8 1719.5,1260.4 1722.0,1260.8 1724.5,1261.0 1727.0,1261.2 1729.5,1261.2 1732.0,1261.1 1734.5,1260.9 1737.0,1260.6 1739.5,1260.1 1742.0,1259.4 1744.5,1258.5 1747.0,1257.4 1749.5,1256.1 1752.0,1254.7 1754.5,1253.2 1757.0,1251.6 1759.5,1250.0 1762.0,1248.5 1764.5,1247.1 1767.0,1245.9 1769.5,1244.8 1772.0,1244.0 1774.5,1243.4 1777.0,1242.9 1779.5,1242.6 1782.0,1242.5 1784.5,1242.4 1787.0,1242.5 1789.5,1242.6 1792.0,1242.9 1794.5,1243.4 1797.0,1244.0 1799.5,1244.8 1802.0,1245.9 1804.5,1247.1 1807.0,1248.5 1809.5,1250.0 1812.0,1251.6 1814.5,1253.2 1817.0,1254.7 1819.5,1256.1 1822.0,1257.4 1824.5,1258.5 1827.0,1259.4 1829.5,1260.1 1832.0,1260.6 1834.5,1260.9 1837.0,1261.1 1839.5,1261.2 1842.0,1261.2 1844.5,1261.0 1847.0,1260.8 1849.5,1260.4 1852.0,1259.8 1854.5,1259.0 1857.0,1258.1 1859.5,1256.9 1862.0,1255.6 1864.5,1254.1 1867.0,1252.5 1869.5,1250.9 1872.0,1249.4 1874.5,1247.9 1877.0,1246.6 1879.5,1245.4 1882.0,1244.5 1884.5,1243.7 1887.0,1243.2 1889.5,1242.8 1892.0,1242.5 1894.5,1242.4 1897.0,1242.4 1899.5,1242.5 1902.0,1242.7 1904.5,1243.1 1907.0,1243.6 1909.5,1244.3 1912.0,1245.2 1914.5,1246.3 1917.0,1247.6 1919.5,1249.1 1922.0,1250.6 1924.5,1252.2 1927.0,1253.8 1929.5,1255.3 1932.0,1256.7 1934.5,1257.9 1937.0,1258.9 1939.5,1259.7 1942.0,1260.3 1944.5,1260.7 1947.0,1261.0 1949.5,1261.2 1952.0,1261.2 1954.5,1261.1 1957.0,1261.0 1959.5,1260.6 1962.0,1260.2 1964.5,1259.5 1967.0,1258.7 1969.5,1257.6 1972.0,1256.4 1974.5,1255.0 1977.0,1253.5 1979.5,1251.9 1982.0,1250.3 1984.5,1248.8 1987.0,1247.3 1989.5,1246.1 1992.0,1245.0 1994.5,1244.2 1997.0,1243.5 1999.5,1243.0 2002.0,1242.7 2004.5,1242.5 2007.0,1242.4 2009.5,1242.4 2012.0,1242.6 2014.5,1242.9 2017.0,1243.3 2019.5,1243.9 2022.0,1244.6 2024.5,1245.6 2027.0,1246.8 2029.5,1248.2 2032.0,1249.7 2034.5,1251.2 2037.0,1252.8 2039.5,1254.4 2042.0,1255.9 2044.5,1257.2 2047.0,1258.3 2049.5,1259.2 2052.0,1259.9 2054.5,1260.5 2057.0,1260.8 2059.5,1261.1 2062.0,1261.2 2064.5,1261.2 2067.0,1261.1 2069.5,1260.8 2072.0,1260.5 2074.5,1259.9 2077.0,1259.2 2079.5,1258.3 2082.0,1257.2 2084.5,1255.9 2087.0,1254.4 2089.5,1252.8 2092.0,1251.2 2094.5,1249.7 2097.0,1248.2 2099.5,1246.8 2102.0,1245.6 2104.5,1244.6 2107.0,1243.9 2109.5,1243.3 2112.0,1242.9 2114.5,1242.6 2117.0,1242.4 2119.5,1242.4 2122.0,1242.5 2124.5,1242.7 2127.0,1243.0 2129.5,1243.5 2132.0,1244.2 2134.5,1245.0 2137.0,1246.1 2139.5,1247.3 2142.0,1248.8 2144.5,1250.3 2147.0,1251.9 2149.5,1253.5 2152.0,1255.0 2154.5,1256.4 2157.0,1257.6 2159.5,1258.7 2162.0,1259.5 2164.5,1260.2 2167.0,1260.6 2169.5,1261.0 2172.0,1261.1 2174.5,1261.2 2177.0,1261.2 2179.5,1261.0 2182.0,1260.7 2184.5,1260.3 2187.0,1259.7 2189.5,1258.9 2192.0,1257.9 2194.5,1256.7 2197.0,1255.3 2199.5,1253.8 2202.0,1252.2 2204.5,1250.6 2207.0,1249.1 2209.5,1247.6 2212.0,1246.3 2214.5,1245.2 2217.0,1244.3 2219.5,1243.6 2222.0,1243.1 2224.5,1242.7 2227.0,1242.5 2229.5,1242.4 2232.0,1242.4 2234.5,1242.5 2237.0,1242.8 2239.5,1243.2 2242.0,1243.7 2244.5,1244.5 2247.0,1245.4 2249.5,1246.6 2252.0,1247.9 2254.5,1249.4 2257.0,1250.9 2259.5,1252.5 2262.0,1254.1 2264.5,1255.6 2267.0,1256.9 2269.5,1258.1 2272.0,1259.0 2274.5,1259.8 2277.0,1260.4 2279.5,1260.8 2282.0,1261.0 2284.5,1261.2 2287.0,1261.2 2289.5,1261.1 2292.0,1260.9 2294.5,1260.6 2297.0,1260.1 2299.5,1259.4 2302.0,1258.5 2304.5,1257.4 2307.0,1256.1 2309.5,1254.7 2312.0,1253.2 2314.5,1251.6 2317.0,1250.0 2319.5,1248.5 2322.0,1247.1 2324.5,1245.9 2327.0,1244.8 2329.5,1244.0 2332.0,1243.4 2334.5,1242.9" fill="none" stroke="#2e6399" stroke-width="2.6" stroke-linejoin="round"/>
<polyline points="656.5,1264.8 659.0,1264.1 661.5,1263.6 664.0,1263.3 666.5,1263.1 669.0,1263.0 671.5,1263.0 674.0,1263.2 676.5,1263.5 679.0,1263.9 681.5,1264.5 684.0,1265.2 686.5,1266.2 689.0,1267.4 691.5,1268.8 694.0,1270.3 696.5,1271.8 699.0,1273.4 701.5,1275.0 704.0,1276.5 706.5,1277.8 709.0,1278.9 711.5,1279.8 714.0,1280.5 716.5,1281.1 719.0,1281.4 721.5,1281.7 724.0,1281.8 726.5,1281.8 729.0,1281.7 731.5,1281.4 734.0,1281.1 736.5,1280.5 739.0,1279.8 741.5,1278.9 744.0,1277.8 746.5,1276.5 749.0,1275.0 751.5,1273.4 754.0,1271.8 756.5,1270.3 759.0,1268.8 761.5,1267.4 764.0,1266.2 766.5,1265.2 769.0,1264.5 771.5,1263.9 774.0,1263.5 776.5,1263.2 779.0,1263.0 781.5,1263.0 784.0,1263.1 786.5,1263.3 789.0,1263.6 791.5,1264.1 794.0,1264.8 796.5,1265.6 799.0,1266.7 801.5,1267.9 804.0,1269.4 806.5,1270.9 809.0,1272.5 811.5,1274.1 814.0,1275.6 816.5,1277.0 819.0,1278.2 821.5,1279.3 824.0,1280.1 826.5,1280.8 829.0,1281.2 831.5,1281.6 834.0,1281.7 836.5,1281.8 839.0,1281.8 841.5,1281.6 844.0,1281.3 846.5,1280.9 849.0,1280.3 851.5,1279.5 854.0,1278.5 856.5,1277.3 859.0,1275.9 861.5,1274.4 864.0,1272.8 866.5,1271.2 869.0,1269.7 871.5,1268.2 874.0,1266.9 876.5,1265.8 879.0,1264.9 881.5,1264.2 884.0,1263.7 886.5,1263.3 889.0,1263.1 891.5,1263.0 894.0,1263.0 896.5,1263.1 899.0,1263.4 901.5,1263.8 904.0,1264.3 906.5,1265.1 909.0,1266.0 911.5,1267.2 914.0,1268.5 916.5,1270.0 919.0,1271.5 921.5,1273.1 924.0,1274.7 926.5,1276.2 929.0,1277.5 931.5,1278.7 934.0,1279.6 936.5,1280.4 939.0,1281.0 941.5,1281.4 944.0,1281.6 946.5,1281.8 949.0,1281.8 951.5,1281.7 954.0,1281.5 956.5,1281.2 959.0,1280.7 961.5,1280.0 964.0,1279.1 966.5,1278.0 969.0,1276.7 971.5,1275.3 974.0,1273.8 976.5,1272.2 979.0,1270.6 981.5,1269.1 984.0,1267.7 986.5,1266.5 989.0,1265.4 991.5,1264.6 994.0,1264.0 996.5,1263.5 999.0,1263.2 1001.5,1263.1 1004.0,1263.0 1006.5,1263.1 1009.0,1263.2 1011.5,1263.5 1014.0,1264.0 1016.5,1264.6 1019.0,1265.4 1021.5,1266.5 1024.0,1267.7 1026.5,1269.1 1029.0,1270.6 1031.5,1272.2 1034.0,1273.8 1036.5,1275.3 1039.0,1276.7 1041.5,1278.0 1044.0,1279.1 1046.5,1280.0 1049.0,1280.7 1051.5,1281.2 1054.0,1281.5 1056.5,1281.7 1059.0,1281.8 1061.5,1281.8 1064.0,1281.6 1066.5,1281.4 1069.0,1281.0 1071.5,1280.4 1074.0,1279.6 1076.5,1278.7 1079.0,1277.5 1081.5,1276.2 1084.0,1274.7 1086.5,1273.1 1089.0,1271.5 1091.5,1270.0 1094.0,1268.5 1096.5,1267.2 1099.0,1266.0 1101.5,1265.1 1104.0,1264.3 1106.5,1263.8 1109.0,1263.4 1111.5,1263.1 1114.0,1263.0 1116.5,1263.0 1119.0,1263.1 1121.5,1263.3 1124.0,1263.7 1126.5,1264.2 1129.0,1264.9 1131.5,1265.8 1134.0,1266.9 1136.5,1268.2 1139.0,1269.7 1141.5,1271.2 1144.0,1272.8 1146.5,1274.4 1149.0,1275.9 1151.5,1277.3 1154.0,1278.5 1156.5,1279.5 1159.0,1280.3 1161.5,1280.9 1164.0,1281.3 1166.5,1281.6 1169.0,1281.8 1171.5,1281.8 1174.0,1281.7 1176.5,1281.6 1179.0,1281.2 1181.5,1280.8 1184.0,1280.1 1186.5,1279.3 1189.0,1278.2 1191.5,1277.0 1194.0,1275.6 1196.5,1274.1 1199.0,1272.5 1201.5,1270.9 1204.0,1269.4 1206.5,1267.9 1209.0,1266.7 1211.5,1265.6 1214.0,1264.8 1216.5,1264.1 1219.0,1263.6 1221.5,1263.3 1224.0,1263.1 1226.5,1263.0 1229.0,1263.0 1231.5,1263.2 1234.0,1263.5 1236.5,1263.9 1239.0,1264.5 1241.5,1265.2 1244.0,1266.2 1246.5,1267.4 1249.0,1268.8 1251.5,1270.3 1254.0,1271.8 1256.5,1273.4 1259.0,1275.0 1261.5,1276.5 1264.0,1277.8 1266.5,1278.9 1269.0,1279.8 1271.5,1280.5 1274.0,1281.1 1276.5,1281.4 1279.0,1281.7 1281.5,1281.8 1284.0,1281.8 1286.5,1281.7 1289.0,1281.4 1291.5,1281.1 1294.0,1280.5 1296.5,1279.8 1299.0,1278.9 1301.5,1277.8 1304.0,1276.5 1306.5,1275.0 1309.0,1273.4 1311.5,1271.8 1314.0,1270.3 1316.5,1268.8 1319.0,1267.4 1321.5,1266.2 1324.0,1265.2 1326.5,1264.5 1329.0,1263.9 1331.5,1263.5 1334.0,1263.2 1336.5,1263.0 1339.0,1263.0 1341.5,1263.1 1344.0,1263.3 1346.5,1263.6 1349.0,1264.1 1351.5,1264.8 1354.0,1265.6 1356.5,1266.7 1359.0,1267.9 1361.5,1269.4 1364.0,1270.9 1366.5,1272.5 1369.0,1274.1 1371.5,1275.6 1374.0,1277.0 1376.5,1278.2 1379.0,1279.3 1381.5,1280.1 1384.0,1280.8 1386.5,1281.2 1389.0,1281.6 1391.5,1281.7 1394.0,1281.8 1396.5,1281.8 1399.0,1281.6 1401.5,1281.3 1404.0,1280.9 1406.5,1280.3 1409.0,1279.5 1411.5,1278.5 1414.0,1277.3 1416.5,1275.9 1419.0,1274.4 1421.5,1272.8 1424.0,1271.2 1426.5,1269.7 1429.0,1268.2 1431.5,1266.9 1434.0,1265.8 1436.5,1264.9 1439.0,1264.2 1441.5,1263.7 1444.0,1263.3 1446.5,1263.1 1449.0,1263.0 1451.5,1263.0 1454.0,1263.1 1456.5,1263.4 1459.0,1263.8 1461.5,1264.3 1464.0,1265.1 1466.5,1266.0 1469.0,1267.2 1471.5,1268.5 1474.0,1270.0 1476.5,1271.5 1479.0,1273.1 1481.5,1274.7 1484.0,1276.2 1486.5,1277.5 1489.0,1278.7 1491.5,1279.6 1494.0,1280.4 1496.5,1281.0 1499.0,1281.4 1501.5,1281.6 1504.0,1281.8 1506.5,1281.8 1509.0,1281.7 1511.5,1281.5 1514.0,1281.2 1516.5,1280.7 1519.0,1280.0 1521.5,1279.1 1524.0,1278.0 1526.5,1276.7 1529.0,1275.3 1531.5,1273.8 1534.0,1272.2 1536.5,1270.6 1539.0,1269.1 1541.5,1267.7 1544.0,1266.5 1546.5,1265.4 1549.0,1264.6 1551.5,1264.0 1554.0,1263.5 1556.5,1263.2 1559.0,1263.1 1561.5,1263.0 1564.0,1263.1 1566.5,1263.2 1569.0,1263.5 1571.5,1264.0 1574.0,1264.6 1576.5,1265.4 1579.0,1266.5 1581.5,1267.7 1584.0,1269.1 1586.5,1270.6 1589.0,1272.2 1591.5,1273.8 1594.0,1275.3 1596.5,1276.7 1599.0,1278.0 1601.5,1279.1 1604.0,1280.0 1606.5,1280.7 1609.0,1281.2 1611.5,1281.5 1614.0,1281.7 1616.5,1281.8 1619.0,1281.8 1621.5,1281.6 1624.0,1281.4 1626.5,1281.0 1629.0,1280.4 1631.5,1279.6 1634.0,1278.7 1636.5,1277.5 1639.0,1276.2 1641.5,1274.7 1644.0,1273.1 1646.5,1271.5 1649.0,1270.0 1651.5,1268.5 1654.0,1267.2 1656.5,1266.0 1659.0,1265.1 1661.5,1264.3 1664.0,1263.8 1666.5,1263.4 1669.0,1263.1 1671.5,1263.0 1674.0,1263.0 1676.5,1263.1 1679.0,1263.3 1681.5,1263.7 1684.0,1264.2 1686.5,1264.9 1689.0,1265.8 1691.5,1266.9 1694.0,1268.2 1696.5,1269.7 1699.0,1271.2 1701.5,1272.8 1704.0,1274.4 1706.5,1275.9 1709.0,1277.3 1711.5,1278.5 1714.0,1279.5 1716.5,1280.3 1719.0,1280.9 1721.5,1281.3 1724.0,1281.6 1726.5,1281.8 1729.0,1281.8 1731.5,1281.7 1734.0,1281.6 1736.5,1281.2 1739.0,1280.8 1741.5,1280.1 1744.0,1279.3 1746.5,1278.2 1749.0,1277.0 1751.5,1275.6 1754.0,1274.1 1756.5,1272.5 1759.0,1270.9 1761.5,1269.4 1764.0,1267.9 1766.5,1266.7 1769.0,1265.6 1771.5,1264.8 1774.0,1264.1 1776.5,1263.6 1779.0,1263.3 1781.5,1263.1 1784.0,1263.0 1786.5,1263.0 1789.0,1263.2 1791.5,1263.5 1794.0,1263.9 1796.5,1264.5 1799.0,1265.2 1801.5,1266.2 1804.0,1267.4 1806.5,1268.8 1809.0,1270.3 1811.5,1271.8 1814.0,1273.4 1816.5,1275.0 1819.0,1276.5 1821.5,1277.8 1824.0,1278.9 1826.5,1279.8 1829.0,1280.5 1831.5,1281.1 1834.0,1281.4 1836.5,1281.7 1839.0,1281.8 1841.5,1281.8 1844.0,1281.7 1846.5,1281.4 1849.0,1281.1 1851.5,1280.5 1854.0,1279.8 1856.5,1278.9 1859.0,1277.8 1861.5,1276.5 1864.0,1275.0 1866.5,1273.4 1869.0,1271.8 1871.5,1270.3 1874.0,1268.8 1876.5,1267.4 1879.0,1266.2 1881.5,1265.2 1884.0,1264.5 1886.5,1263.9 1889.0,1263.5 1891.5,1263.2 1894.0,1263.0 1896.5,1263.0 1899.0,1263.1 1901.5,1263.3 1904.0,1263.6 1906.5,1264.1 1909.0,1264.8 1911.5,1265.6 1914.0,1266.7 1916.5,1267.9 1919.0,1269.4 1921.5,1270.9 1924.0,1272.5 1926.5,1274.1 1929.0,1275.6 1931.5,1277.0 1934.0,1278.2 1936.5,1279.3 1939.0,1280.1 1941.5,1280.8 1944.0,1281.2 1946.5,1281.6 1949.0,1281.7 1951.5,1281.8 1954.0,1281.8 1956.5,1281.6 1959.0,1281.3 1961.5,1280.9 1964.0,1280.3 1966.5,1279.5 1969.0,1278.5 1971.5,1277.3 1974.0,1275.9 1976.5,1274.4 1979.0,1272.8 1981.5,1271.2 1984.0,1269.7 1986.5,1268.2 1989.0,1266.9 1991.5,1265.8 1994.0,1264.9 1996.5,1264.2 1999.0,1263.7 2001.5,1263.3 2004.0,1263.1 2006.5,1263.0 2009.0,1263.0 2011.5,1263.1 2014.0,1263.4 2016.5,1263.8 2019.0,1264.3 2021.5,1265.1 2024.0,1266.0 2026.5,1267.2 2029.0,1268.5 2031.5,1270.0 2034.0,1271.5 2036.5,1273.1 2039.0,1274.7 2041.5,1276.2 2044.0,1277.5 2046.5,1278.7 2049.0,1279.6 2051.5,1280.4 2054.0,1281.0 2056.5,1281.4 2059.0,1281.6 2061.5,1281.8 2064.0,1281.8 2066.5,1281.7 2069.0,1281.5 2071.5,1281.2 2074.0,1280.7 2076.5,1280.0 2079.0,1279.1 2081.5,1278.0 2084.0,1276.7 2086.5,1275.3 2089.0,1273.8 2091.5,1272.2 2094.0,1270.6 2096.5,1269.1 2099.0,1267.7 2101.5,1266.5 2104.0,1265.4 2106.5,1264.6 2109.0,1264.0 2111.5,1263.5 2114.0,1263.2 2116.5,1263.1 2119.0,1263.0 2121.5,1263.1 2124.0,1263.2 2126.5,1263.5 2129.0,1264.0 2131.5,1264.6 2134.0,1265.4 2136.5,1266.5 2139.0,1267.7 2141.5,1269.1 2144.0,1270.6 2146.5,1272.2 2149.0,1273.8 2151.5,1275.3 2154.0,1276.7 2156.5,1278.0 2159.0,1279.1 2161.5,1280.0 2164.0,1280.7 2166.5,1281.2 2169.0,1281.5 2171.5,1281.7 2174.0,1281.8 2176.5,1281.8 2179.0,1281.6 2181.5,1281.4 2184.0,1281.0 2186.5,1280.4 2189.0,1279.6 2191.5,1278.7 2194.0,1277.5 2196.5,1276.2 2199.0,1274.7 2201.5,1273.1 2204.0,1271.5 2206.5,1270.0 2209.0,1268.5 2211.5,1267.2 2214.0,1266.0 2216.5,1265.1 2219.0,1264.3 2221.5,1263.8 2224.0,1263.4 2226.5,1263.1 2229.0,1263.0 2231.5,1263.0 2234.0,1263.1 2236.5,1263.3 2239.0,1263.7 2241.5,1264.2 2244.0,1264.9 2246.5,1265.8 2249.0,1266.9 2251.5,1268.2 2254.0,1269.7 2256.5,1271.2 2259.0,1272.8 2261.5,1274.4 2264.0,1275.9 2266.5,1277.3 2269.0,1278.5 2271.5,1279.5 2274.0,1280.3 2276.5,1280.9 2279.0,1281.3 2281.5,1281.6 2284.0,1281.8 2286.5,1281.8 2289.0,1281.7 2291.5,1281.6 2294.0,1281.2 2296.5,1280.8 2299.0,1280.1 2301.5,1279.3 2304.0,1278.2 2306.5,1277.0 2309.0,1275.6 2311.5,1274.1 2314.0,1272.5 2316.5,1270.9 2319.0,1269.4 2321.5,1267.9 2324.0,1266.7 2326.5,1265.6 2329.0,1264.8 2331.5,1264.1 2334.0,1263.6" fill="none" stroke="#2e6399" stroke-width="2.6" stroke-linejoin="round"/>
<polyline points="727.0,1303.0 729.5,1302.8 732.0,1302.6 734.5,1302.2 737.0,1301.6 739.5,1300.8 742.0,1299.9 744.5,1298.7 747.0,1297.4 749.5,1295.9 752.0,1294.3 754.5,1292.7 757.0,1291.2 759.5,1289.7 762.0,1288.4 764.5,1287.2 767.0,1286.3 769.5,1285.5 772.0,1285.0 774.5,1284.6 777.0,1284.3 779.5,1284.2 782.0,1284.2 784.5,1284.3 787.0,1284.5 789.5,1284.9 792.0,1285.4 794.5,1286.1 797.0,1287.0 799.5,1288.1 802.0,1289.4 804.5,1290.9 807.0,1292.4 809.5,1294.0 812.0,1295.6 814.5,1297.1 817.0,1298.5 819.5,1299.7 822.0,1300.7 824.5,1301.5 827.0,1302.1 829.5,1302.5 832.0,1302.8 834.5,1303.0 837.0,1303.0 839.5,1302.9 842.0,1302.8 844.5,1302.4 847.0,1302.0 849.5,1301.3 852.0,1300.5 854.5,1299.4 857.0,1298.2 859.5,1296.8 862.0,1295.3 864.5,1293.7 867.0,1292.1 869.5,1290.6 872.0,1289.1 874.5,1287.9 877.0,1286.8 879.5,1286.0 882.0,1285.3 884.5,1284.8 887.0,1284.5 889.5,1284.3 892.0,1284.2 894.5,1284.2 897.0,1284.4 899.5,1284.7 902.0,1285.1 904.5,1285.7 907.0,1286.4 909.5,1287.4 912.0,1288.6 914.5,1290.0 917.0,1291.5 919.5,1293.0 922.0,1294.6 924.5,1296.2 927.0,1297.7 929.5,1299.0 932.0,1300.1 934.5,1301.0 937.0,1301.7 939.5,1302.3 942.0,1302.6 944.5,1302.9 947.0,1303.0 949.5,1303.0 952.0,1302.9 954.5,1302.6 957.0,1302.3 959.5,1301.7 962.0,1301.0 964.5,1300.1 967.0,1299.0 969.5,1297.7 972.0,1296.2 974.5,1294.6 977.0,1293.0 979.5,1291.5 982.0,1290.0 984.5,1288.6 987.0,1287.4 989.5,1286.4 992.0,1285.7 994.5,1285.1 997.0,1284.7 999.5,1284.4 1002.0,1284.2 1004.5,1284.2 1007.0,1284.3 1009.5,1284.5 1012.0,1284.8 1014.5,1285.3 1017.0,1286.0 1019.5,1286.8 1022.0,1287.9 1024.5,1289.1 1027.0,1290.6 1029.5,1292.1 1032.0,1293.7 1034.5,1295.3 1037.0,1296.8 1039.5,1298.2 1042.0,1299.4 1044.5,1300.5 1047.0,1301.3 1049.5,1302.0 1052.0,1302.4 1054.5,1302.8 1057.0,1302.9 1059.5,1303.0 1062.0,1303.0 1064.5,1302.8 1067.0,1302.5 1069.5,1302.1 1072.0,1301.5 1074.5,1300.7 1077.0,1299.7 1079.5,1298.5 1082.0,1297.1 1084.5,1295.6 1087.0,1294.0 1089.5,1292.4 1092.0,1290.9 1094.5,1289.4 1097.0,1288.1 1099.5,1287.0 1102.0,1286.1 1104.5,1285.4 1107.0,1284.9 1109.5,1284.5 1112.0,1284.3 1114.5,1284.2 1117.0,1284.2 1119.5,1284.3 1122.0,1284.6 1124.5,1285.0 1127.0,1285.5 1129.5,1286.3 1132.0,1287.2 1134.5,1288.4 1137.0,1289.7 1139.5,1291.2 1142.0,1292.7 1144.5,1294.3 1147.0,1295.9 1149.5,1297.4 1152.0,1298.7 1154.5,1299.9 1157.0,1300.8 1159.5,1301.6 1162.0,1302.2 1164.5,1302.6 1167.0,1302.8 1169.5,1303.0 1172.0,1303.0 1174.5,1302.9 1177.0,1302.7 1179.5,1302.4 1182.0,1301.9 1184.5,1301.2 1187.0,1300.3 1189.5,1299.2 1192.0,1297.9 1194.5,1296.5 1197.0,1295.0 1199.5,1293.4 1202.0,1291.8 1204.5,1290.3 1207.0,1288.9 1209.5,1287.7 1212.0,1286.6 1214.5,1285.8 1217.0,1285.2 1219.5,1284.7 1222.0,1284.4 1224.5,1284.3 1227.0,1284.2 1229.5,1284.3 1232.0,1284.4 1234.5,1284.7 1237.0,1285.2 1239.5,1285.8 1242.0,1286.6 1244.5,1287.7 1247.0,1288.9 1249.5,1290.3 1252.0,1291.8 1254.5,1293.4 1257.0,1295.0 1259.5,1296.5 1262.0,1297.9 1264.5,1299.2 1267.0,1300.3 1269.5,1301.2 1272.0,1301.9 1274.5,1302.4 1277.0,1302.7 1279.5,1302.9 1282.0,1303.0 1284.5,1303.0 1287.0,1302.8 1289.5,1302.6 1292.0,1302.2 1294.5,1301.6 1297.0,1300.8 1299.5,1299.9 1302.0,1298.7 1304.5,1297.4 1307.0,1295.9 1309.5,1294.3 1312.0,1292.7 1314.5,1291.2 1317.0,1289.7 1319.5,1288.4 1322.0,1287.2 1324.5,1286.3 1327.0,1285.5 1329.5,1285.0 1332.0,1284.6 1334.5,1284.3 1337.0,1284.2 1339.5,1284.2 1342.0,1284.3 1344.5,1284.5 1347.0,1284.9 1349.5,1285.4 1352.0,1286.1 1354.5,1287.0 1357.0,1288.1 1359.5,1289.4 1362.0,1290.9 1364.5,1292.4 1367.0,1294.0 1369.5,1295.6 1372.0,1297.1 1374.5,1298.5 1377.0,1299.7 1379.5,1300.7 1382.0,1301.5 1384.5,1302.1 1387.0,1302.5 1389.5,1302.8 1392.0,1303.0 1394.5,1303.0 1397.0,1302.9 1399.5,1302.8 1402.0,1302.4 1404.5,1302.0 1407.0,1301.3 1409.5,1300.5 1412.0,1299.4 1414.5,1298.2 1417.0,1296.8 1419.5,1295.3 1422.0,1293.7 1424.5,1292.1 1427.0,1290.6 1429.5,1289.1 1432.0,1287.9 1434.5,1286.8 1437.0,1286.0 1439.5,1285.3 1442.0,1284.8 1444.5,1284.5 1447.0,1284.3 1449.5,1284.2 1452.0,1284.2 1454.5,1284.4 1457.0,1284.7 1459.5,1285.1 1462.0,1285.7 1464.5,1286.4 1467.0,1287.4 1469.5,1288.6 1472.0,1290.0 1474.5,1291.5 1477.0,1293.0 1479.5,1294.6 1482.0,1296.2 1484.5,1297.7 1487.0,1299.0 1489.5,1300.1 1492.0,1301.0 1494.5,1301.7 1497.0,1302.3 1499.5,1302.6 1502.0,1302.9 1504.5,1303.0 1507.0,1303.0 1509.5,1302.9 1512.0,1302.6 1514.5,1302.3 1517.0,1301.7 1519.5,1301.0 1522.0,1300.1 1524.5,1299.0 1527.0,1297.7 1529.5,1296.2 1532.0,1294.6 1534.5,1293.0 1537.0,1291.5 1539.5,1290.0 1542.0,1288.6 1544.5,1287.4 1547.0,1286.4 1549.5,1285.7 1552.0,1285.1 1554.5,1284.7 1557.0,1284.4 1559.5,1284.2 1562.0,1284.2 1564.5,1284.3 1567.0,1284.5 1569.5,1284.8 1572.0,1285.3 1574.5,1286.0 1577.0,1286.8 1579.5,1287.9 1582.0,1289.1 1584.5,1290.6 1587.0,1292.1 1589.5,1293.7 1592.0,1295.3 1594.5,1296.8 1597.0,1298.2 1599.5,1299.4 1602.0,1300.5 1604.5,1301.3 1607.0,1302.0 1609.5,1302.4 1612.0,1302.8 1614.5,1302.9 1617.0,1303.0 1619.5,1303.0 1622.0,1302.8 1624.5,1302.5 1627.0,1302.1 1629.5,1301.5 1632.0,1300.7 1634.5,1299.7 1637.0,1298.5 1639.5,1297.1 1642.0,1295.6 1644.5,1294.0 1647.0,1292.4 1649.5,1290.9 1652.0,1289.4 1654.5,1288.1 1657.0,1287.0 1659.5,1286.1 1662.0,1285.4 1664.5,1284.9 1667.0,1284.5 1669.5,1284.3 1672.0,1284.2 1674.5,1284.2 1677.0,1284.3 1679.5,1284.6 1682.0,1285.0 1684.5,1285.5 1687.0,1286.3 1689.5,1287.2 1692.0,1288.4 1694.5,1289.7 1697.0,1291.2 1699.5,1292.7 1702.0,1294.3 1704.5,1295.9 1707.0,1297.4 1709.5,1298.7 1712.0,1299.9 1714.5,1300.8 1717.0,1301.6 1719.5,1302.2 1722.0,1302.6 1724.5,1302.8 1727.0,1303.0 1729.5,1303.0 1732.0,1302.9 1734.5,1302.7 1737.0,1302.4 1739.5,1301.9 1742.0,1301.2 1744.5,1300.3 1747.0,1299.2 1749.5,1297.9 1752.0,1296.5 1754.5,1295.0 1757.0,1293.4 1759.5,1291.8 1762.0,1290.3 1764.5,1288.9 1767.0,1287.7 1769.5,1286.6 1772.0,1285.8 1774.5,1285.2 1777.0,1284.7 1779.5,1284.4 1782.0,1284.3 1784.5,1284.2 1787.0,1284.3 1789.5,1284.4 1792.0,1284.7 1794.5,1285.2 1797.0,1285.8 1799.5,1286.6 1802.0,1287.7 1804.5,1288.9 1807.0,1290.3 1809.5,1291.8 1812.0,1293.4 1814.5,1295.0 1817.0,1296.5 1819.5,1297.9 1822.0,1299.2 1824.5,1300.3 1827.0,1301.2 1829.5,1301.9 1832.0,1302.4 1834.5,1302.7 1837.0,1302.9 1839.5,1303.0 1842.0,1303.0 1844.5,1302.8 1847.0,1302.6 1849.5,1302.2 1852.0,1301.6 1854.5,1300.8 1857.0,1299.9 1859.5,1298.7 1862.0,1297.4 1864.5,1295.9 1867.0,1294.3 1869.5,1292.7 1872.0,1291.2 1874.5,1289.7 1877.0,1288.4 1879.5,1287.2 1882.0,1286.3 1884.5,1285.5 1887.0,1285.0 1889.5,1284.6 1892.0,1284.3 1894.5,1284.2 1897.0,1284.2 1899.5,1284.3 1902.0,1284.5 1904.5,1284.9 1907.0,1285.4 1909.5,1286.1 1912.0,1287.0 1914.5,1288.1 1917.0,1289.4 1919.5,1290.9 1922.0,1292.4 1924.5,1294.0 1927.0,1295.6 1929.5,1297.1 1932.0,1298.5 1934.5,1299.7 1937.0,1300.7 1939.5,1301.5 1942.0,1302.1 1944.5,1302.5 1947.0,1302.8 1949.5,1303.0 1952.0,1303.0 1954.5,1302.9 1957.0,1302.8 1959.5,1302.4 1962.0,1302.0 1964.5,1301.3 1967.0,1300.5 1969.5,1299.4 1972.0,1298.2 1974.5,1296.8 1977.0,1295.3 1979.5,1293.7 1982.0,1292.1 1984.5,1290.6 1987.0,1289.1 1989.5,1287.9 1992.0,1286.8 1994.5,1286.0 1997.0,1285.3 1999.5,1284.8 2002.0,1284.5 2004.5,1284.3 2007.0,1284.2 2009.5,1284.2 2012.0,1284.4 2014.5,1284.7 2017.0,1285.1 2019.5,1285.7 2022.0,1286.4 2024.5,1287.4 2027.0,1288.6 2029.5,1290.0 2032.0,1291.5 2034.5,1293.0 2037.0,1294.6 2039.5,1296.2 2042.0,1297.7 2044.5,1299.0 2047.0,1300.1 2049.5,1301.0 2052.0,1301.7 2054.5,1302.3 2057.0,1302.6 2059.5,1302.9 2062.0,1303.0 2064.5,1303.0 2067.0,1302.9 2069.5,1302.6 2072.0,1302.3 2074.5,1301.7 2077.0,1301.0 2079.5,1300.1 2082.0,1299.0 2084.5,1297.7 2087.0,1296.2 2089.5,1294.6 2092.0,1293.0 2094.5,1291.5 2097.0,1290.0 2099.5,1288.6 2102.0,1287.4 2104.5,1286.4 2107.0,1285.7 2109.5,1285.1 2112.0,1284.7 2114.5,1284.4 2117.0,1284.2 2119.5,1284.2 2122.0,1284.3 2124.5,1284.5 2127.0,1284.8 2129.5,1285.3 2132.0,1286.0 2134.5,1286.8 2137.0,1287.9 2139.5,1289.1 2142.0,1290.6 2144.5,1292.1 2147.0,1293.7 2149.5,1295.3 2152.0,1296.8 2154.5,1298.2 2157.0,1299.4 2159.5,1300.5 2162.0,1301.3 2164.5,1302.0 2167.0,1302.4 2169.5,1302.8 2172.0,1302.9 2174.5,1303.0 2177.0,1303.0 2179.5,1302.8 2182.0,1302.5 2184.5,1302.1 2187.0,1301.5 2189.5,1300.7 2192.0,1299.7 2194.5,1298.5 2197.0,1297.1 2199.5,1295.6 2202.0,1294.0 2204.5,1292.4 2207.0,1290.9 2209.5,1289.4 2212.0,1288.1 2214.5,1287.0 2217.0,1286.1 2219.5,1285.4 2222.0,1284.9 2224.5,1284.5 2227.0,1284.3 2229.5,1284.2 2232.0,1284.2 2234.5,1284.3 2237.0,1284.6 2239.5,1285.0 2242.0,1285.5 2244.5,1286.3 2247.0,1287.2 2249.5,1288.4 2252.0,1289.7 2254.5,1291.2 2257.0,1292.7 2259.5,1294.3 2262.0,1295.9 2264.5,1297.4 2267.0,1298.7 2269.5,1299.9 2272.0,1300.8 2274.5,1301.6 2277.0,1302.2 2279.5,1302.6 2282.0,1302.8 2284.5,1303.0 2287.0,1303.0 2289.5,1302.9 2292.0,1302.7 2294.5,1302.4 2297.0,1301.9 2299.5,1301.2 2302.0,1300.3 2304.5,1299.2 2307.0,1297.9 2309.5,1296.5 2312.0,1295.0 2314.5,1293.4 2317.0,1291.8 2319.5,1290.3 2322.0,1288.9 2324.5,1287.7 2327.0,1286.6 2329.5,1285.8 2332.0,1285.2 2334.5,1284.7" fill="none" stroke="#2e6399" stroke-width="2.6" stroke-linejoin="round"/>
<line x1="231.6" y1="525.0" x2="231.6" y2="552.0" stroke="#2a2a2a" stroke-width="1.15"/>
<circle cx="231.6" cy="501.3" r="24" fill="#cd3d35"/>
<text x="231.6" y="512.9" font-size="33" font-weight="bold" fill="#fff" stroke="#fff" stroke-width="0.5" text-anchor="middle">1</text>
<line x1="233.3" y1="847.4" x2="233.3" y2="871.0" stroke="#2a2a2a" stroke-width="1.15"/>
<circle cx="232.7" cy="894.3" r="24" fill="#cd3d35"/>
<text x="232.7" y="905.9" font-size="33" font-weight="bold" fill="#fff" stroke="#fff" stroke-width="0.5" text-anchor="middle">2</text>
<line x1="335.6" y1="580.0" x2="335.6" y2="633.0" stroke="#2a2a2a" stroke-width="1.15"/>
<circle cx="335.6" cy="556.0" r="24" fill="#cd3d35"/>
<text x="335.6" y="567.6" font-size="33" font-weight="bold" fill="#fff" stroke="#fff" stroke-width="0.5" text-anchor="middle">3</text>
<line x1="250.0" y1="756.0" x2="302.0" y2="756.0" stroke="#2a2a2a" stroke-width="1.15"/>
<circle cx="324.9" cy="749.3" r="24" fill="#cd3d35"/>
<text x="324.9" y="760.9" font-size="33" font-weight="bold" fill="#fff" stroke="#fff" stroke-width="0.5" text-anchor="middle">4</text>
<line x1="240.6" y1="793.6" x2="305.0" y2="793.6" stroke="#2a2a2a" stroke-width="1.15"/>
<circle cx="324.9" cy="806.0" r="24" fill="#cd3d35"/>
<text x="324.9" y="817.6" font-size="33" font-weight="bold" fill="#fff" stroke="#fff" stroke-width="0.5" text-anchor="middle">5</text>
<line x1="328.8" y1="969.0" x2="328.8" y2="992.0" stroke="#2a2a2a" stroke-width="1.15"/>
<circle cx="328.8" cy="1016.0" r="24" fill="#cd3d35"/>
<text x="328.8" y="1027.6" font-size="33" font-weight="bold" fill="#fff" stroke="#fff" stroke-width="0.5" text-anchor="middle">6</text>
<line x1="487.3" y1="373.0" x2="487.3" y2="402.0" stroke="#2a2a2a" stroke-width="1.15"/>
<circle cx="487.3" cy="349.0" r="24" fill="#cd3d35"/>
<text x="487.3" y="360.6" font-size="33" font-weight="bold" fill="#fff" stroke="#fff" stroke-width="0.5" text-anchor="middle">7</text>
<line x1="716.0" y1="627.0" x2="716.0" y2="653.0" stroke="#2a2a2a" stroke-width="1.15"/>
<circle cx="717.5" cy="603.0" r="24" fill="#cd3d35"/>
<text x="717.5" y="614.6" font-size="33" font-weight="bold" fill="#fff" stroke="#fff" stroke-width="0.5" text-anchor="middle">8</text>
<line x1="823.3" y1="595.0" x2="823.3" y2="687.6" stroke="#2a2a2a" stroke-width="1.15"/>
<circle cx="823.3" cy="571.6" r="24" fill="#cd3d35"/>
<text x="823.3" y="583.2" font-size="33" font-weight="bold" fill="#fff" stroke="#fff" stroke-width="0.5" text-anchor="middle">9</text>
<line x1="812.8" y1="857.0" x2="812.8" y2="874.0" stroke="#2a2a2a" stroke-width="1.15"/>
<circle cx="812.8" cy="897.2" r="24" fill="#cd3d35"/>
<text x="812.2" y="908.2" font-size="31" font-weight="bold" fill="#fff" stroke="#fff" stroke-width="0.5" text-anchor="middle" letter-spacing="-1.2">10</text>
<line x1="875.9" y1="1025.0" x2="875.9" y2="1052.0" stroke="#2a2a2a" stroke-width="1.15"/>
<circle cx="875.9" cy="1075.6" r="24" fill="#cd3d35"/>
<text x="875.3" y="1086.6" font-size="31" font-weight="bold" fill="#fff" stroke="#fff" stroke-width="0.5" text-anchor="middle" letter-spacing="-1.2">11</text>
<line x1="1054.3" y1="1031.0" x2="1054.3" y2="1052.0" stroke="#2a2a2a" stroke-width="1.15"/>
<circle cx="1054.3" cy="1075.6" r="24" fill="#cd3d35"/>
<text x="1053.7" y="1086.6" font-size="31" font-weight="bold" fill="#fff" stroke="#fff" stroke-width="0.5" text-anchor="middle" letter-spacing="-1.2">12</text>
<line x1="1226.0" y1="972.0" x2="1226.0" y2="1026.0" stroke="#555" stroke-width="1.15"/>
<circle cx="1226.0" cy="1049.6" r="24" fill="#cd3d35"/>
<text x="1225.4" y="1060.6" font-size="31" font-weight="bold" fill="#fff" stroke="#fff" stroke-width="0.5" text-anchor="middle" letter-spacing="-1.2">13</text>
<line x1="1068.6" y1="758.0" x2="1068.6" y2="798.0" stroke="#2a2a2a" stroke-width="1.15"/>
<circle cx="1069.3" cy="821.0" r="24" fill="#cd3d35"/>
<text x="1068.7" y="832.0" font-size="31" font-weight="bold" fill="#fff" stroke="#fff" stroke-width="0.5" text-anchor="middle" letter-spacing="-1.2">14</text>
<line x1="1199.5" y1="758.0" x2="1199.5" y2="798.0" stroke="#2a2a2a" stroke-width="1.15"/>
<circle cx="1199.6" cy="821.0" r="24" fill="#cd3d35"/>
<text x="1199.0" y="832.0" font-size="31" font-weight="bold" fill="#fff" stroke="#fff" stroke-width="0.5" text-anchor="middle" letter-spacing="-1.2">15</text>
<line x1="1292.4" y1="758.0" x2="1292.4" y2="798.0" stroke="#2a2a2a" stroke-width="1.15"/>
<circle cx="1292.3" cy="821.0" r="24" fill="#cd3d35"/>
<text x="1291.7" y="832.0" font-size="31" font-weight="bold" fill="#fff" stroke="#fff" stroke-width="0.5" text-anchor="middle" letter-spacing="-1.2">15</text>
<line x1="1452.0" y1="758.0" x2="1452.0" y2="798.0" stroke="#2a2a2a" stroke-width="1.15"/>
<circle cx="1451.9" cy="821.0" r="24" fill="#cd3d35"/>
<text x="1451.3" y="832.0" font-size="31" font-weight="bold" fill="#fff" stroke="#fff" stroke-width="0.5" text-anchor="middle" letter-spacing="-1.2">16</text>
<line x1="2110.5" y1="758.0" x2="2110.5" y2="798.0" stroke="#2a2a2a" stroke-width="1.15"/>
<circle cx="2111.0" cy="821.2" r="24" fill="#cd3d35"/>
<text x="2110.4" y="832.2" font-size="31" font-weight="bold" fill="#fff" stroke="#fff" stroke-width="0.5" text-anchor="middle" letter-spacing="-1.2">17</text>
<line x1="1328.7" y1="642.0" x2="1397.0" y2="642.0" stroke="#2a2a2a" stroke-width="1.15"/>
<circle cx="1420.0" cy="640.6" r="24" fill="#cd3d35"/>
<text x="1419.4" y="651.6" font-size="31" font-weight="bold" fill="#fff" stroke="#fff" stroke-width="0.5" text-anchor="middle" letter-spacing="-1.2">18</text>
<line x1="1111.6" y1="495.0" x2="1111.6" y2="602.7" stroke="#2a2a2a" stroke-width="1.15"/>
<circle cx="1112.0" cy="471.0" r="24" fill="#cd3d35"/>
<text x="1111.4" y="482.0" font-size="31" font-weight="bold" fill="#fff" stroke="#fff" stroke-width="0.5" text-anchor="middle" letter-spacing="-1.2">19</text>
<line x1="1334.0" y1="445.0" x2="1334.0" y2="478.6" stroke="#2a2a2a" stroke-width="1.15"/>
<circle cx="1334.0" cy="421.0" r="24" fill="#cd3d35"/>
<text x="1333.4" y="432.0" font-size="31" font-weight="bold" fill="#fff" stroke="#fff" stroke-width="0.5" text-anchor="middle" letter-spacing="-1.2">20</text>
<line x1="366.0" y1="671.0" x2="399.0" y2="671.0" stroke="#000" stroke-width="1.4"/>
<polygon points="403.0,671.0 394.0,674.2 394.0,667.8" fill="#000"/>
<line x1="404.0" y1="941.0" x2="371.0" y2="941.0" stroke="#000" stroke-width="1.4"/>
<polygon points="367.0,941.0 376.0,937.8 376.0,944.2" fill="#000"/>
<line x1="865.4" y1="481.4" x2="898.0" y2="481.4" stroke="#000" stroke-width="1.4"/>
<polygon points="902.0,481.4 893.0,484.6 893.0,478.2" fill="#000"/>
<line x1="1038.7" y1="562.7" x2="1038.7" y2="595.4" stroke="#000" stroke-width="1.4"/>
<polygon points="1038.7,599.4 1035.5,590.4 1041.9,590.4" fill="#000"/>
<line x1="787.4" y1="850.3" x2="755.0" y2="850.3" stroke="#000" stroke-width="1.4"/>
<polygon points="751.0,850.3 760.0,847.1 760.0,853.5" fill="#000"/>
<line x1="953.6" y1="848.5" x2="953.6" y2="815.0" stroke="#000" stroke-width="1.4"/>
<polygon points="953.6,811.0 956.8,820.0 950.4,820.0" fill="#000"/>
<line x1="1126.6" y1="1036.0" x2="1094.0" y2="1036.0" stroke="#000" stroke-width="1.4"/>
<polygon points="1090.0,1036.0 1099.0,1032.8 1099.0,1039.2" fill="#000"/>
<line x1="1100.0" y1="721.6" x2="1100.0" y2="689.0" stroke="#000" stroke-width="1.4"/>
<polygon points="1100.0,685.0 1103.2,694.0 1096.8,694.0" fill="#000"/>
<line x1="1187.7" y1="684.8" x2="1187.7" y2="717.6" stroke="#000" stroke-width="1.4"/>
<polygon points="1187.7,721.6 1184.5,712.6 1190.9,712.6" fill="#000"/>
<line x1="1341.3" y1="684.8" x2="1341.3" y2="717.6" stroke="#000" stroke-width="1.4"/>
<polygon points="1341.3,721.6 1338.1,712.6 1344.5,712.6" fill="#000"/>
<line x1="1260.0" y1="564.0" x2="1292.8" y2="564.0" stroke="#000" stroke-width="1.4"/>
<polygon points="1296.8,564.0 1287.8,567.2 1287.8,560.8" fill="#000"/>
<line x1="1432.5" y1="478.5" x2="1465.0" y2="478.5" stroke="#000" stroke-width="1.4"/>
<polygon points="1469.0,478.5 1460.0,481.7 1460.0,475.3" fill="#000"/>
<line x1="1470.0" y1="539.0" x2="1437.0" y2="539.0" stroke="#000" stroke-width="1.4"/>
<polygon points="1433.0,539.0 1442.0,535.8 1442.0,542.2" fill="#000"/>
<line x1="1432.5" y1="878.0" x2="1465.5" y2="878.0" stroke="#000" stroke-width="1.4"/>
<polygon points="1469.5,878.0 1460.5,881.2 1460.5,874.8" fill="#000"/>
<line x1="1469.5" y1="939.4" x2="1436.5" y2="939.4" stroke="#000" stroke-width="1.4"/>
<polygon points="1432.5,939.4 1441.5,936.2 1441.5,942.6" fill="#000"/>
<line x1="1880.4" y1="337.7" x2="1880.4" y2="306.2" stroke="#000" stroke-width="1.4"/>
<polygon points="1880.4,302.2 1883.6,311.2 1877.2,311.2" fill="#000"/>
<line x1="1954.6" y1="302.2" x2="1954.6" y2="333.7" stroke="#000" stroke-width="1.4"/>
<polygon points="1954.6,337.7 1951.4,328.7 1957.8,328.7" fill="#000"/>
<line x1="2083.0" y1="337.7" x2="2083.0" y2="306.2" stroke="#000" stroke-width="1.4"/>
<polygon points="2083.0,302.2 2086.2,311.2 2079.8,311.2" fill="#000"/>
<line x1="2157.0" y1="302.2" x2="2157.0" y2="333.7" stroke="#000" stroke-width="1.4"/>
<polygon points="2157.0,337.7 2153.8,328.7 2160.2,328.7" fill="#000"/>
<line x1="1592.0" y1="1216.5" x2="1592.0" y2="1184.3" stroke="#000" stroke-width="1.4"/>
<polygon points="1592.0,1180.3 1595.2,1189.3 1588.8,1189.3" fill="#000"/>
<line x1="2028.3" y1="1180.5" x2="2028.3" y2="1212.8" stroke="#000" stroke-width="1.4"/>
<polygon points="2028.3,1216.8 2025.1,1207.8 2031.5,1207.8" fill="#000"/>
<text x="182.8" y="123.5" font-size="34" font-weight="bold" text-anchor="start" textLength="311.5" lengthAdjust="spacingAndGlyphs" stroke="#000" stroke-width="1.3" stroke-linejoin="round">Sicherheitsgebäude</text>
<text x="1040.3" y="123.5" font-size="34" font-weight="bold" text-anchor="start" textLength="237.5" lengthAdjust="spacingAndGlyphs" stroke="#000" stroke-width="1.3" stroke-linejoin="round">Maschinenhaus</text>
<text x="695.0" y="253.0" font-size="34" font-weight="normal" text-anchor="start" textLength="195.0" lengthAdjust="spacingAndGlyphs">Betonmantel</text>
<text x="695.0" y="297.0" font-size="34" font-weight="normal" text-anchor="start" textLength="256.0" lengthAdjust="spacingAndGlyphs">Stahlauskleidung</text>
<text x="695.0" y="341.0" font-size="34" font-weight="normal" text-anchor="start" textLength="254.0" lengthAdjust="spacingAndGlyphs">Stahldruckschale</text>
<text x="1816.0" y="124.5" font-size="34" font-weight="normal" text-anchor="start" textLength="234.0" lengthAdjust="spacingAndGlyphs">Fernwärmenetz</text>
<text x="1816.0" y="169.7" font-size="34" font-weight="normal" text-anchor="start" textLength="132.0" lengthAdjust="spacingAndGlyphs">REFUNA</text>
<text x="1242.7" y="1211.5" font-size="34" font-weight="normal" text-anchor="start" textLength="319.0" lengthAdjust="spacingAndGlyphs">Kühlwasserentnahme</text>
<text x="2049.4" y="1211.5" font-size="34" font-weight="normal" text-anchor="start" textLength="308.0" lengthAdjust="spacingAndGlyphs">Kühlwasserrückgabe</text>
<text x="290.0" y="718.0" font-size="18.5" font-weight="normal" text-anchor="start" textLength="127.5" lengthAdjust="spacingAndGlyphs">155 bar, 300 °C</text>
<text x="740.5" y="482.0" font-size="18.5" font-weight="normal" text-anchor="start" textLength="119.0" lengthAdjust="spacingAndGlyphs">55 bar, 270 °C</text>
<text x="1201.0" y="566.0" font-size="18.5" font-weight="normal" text-anchor="start" textLength="53.0" lengthAdjust="spacingAndGlyphs">127 °C</text>
<text x="1481.0" y="479.5" font-size="18.5" font-weight="normal" text-anchor="start" textLength="54.0" lengthAdjust="spacingAndGlyphs">120 °C</text>
<text x="1199.6" y="705.8" font-size="18.5" font-weight="normal" text-anchor="start" textLength="107.5" lengthAdjust="spacingAndGlyphs">2 bar, 247 °C</text>
<text x="1542.4" y="730.6" font-size="18.5" font-weight="normal" text-anchor="start" textLength="59.2" lengthAdjust="spacingAndGlyphs">15,5 kV</text>
<text x="2092.4" y="593.7" font-size="18.5" font-weight="normal" text-anchor="start" textLength="56.0" lengthAdjust="spacingAndGlyphs">230 kV</text>
<text x="1252.5" y="1002.8" font-size="18.5" font-weight="normal" text-anchor="start" textLength="124.5" lengthAdjust="spacingAndGlyphs">0,04 bar, 30 °C</text>
</svg>
</body>
</html>
